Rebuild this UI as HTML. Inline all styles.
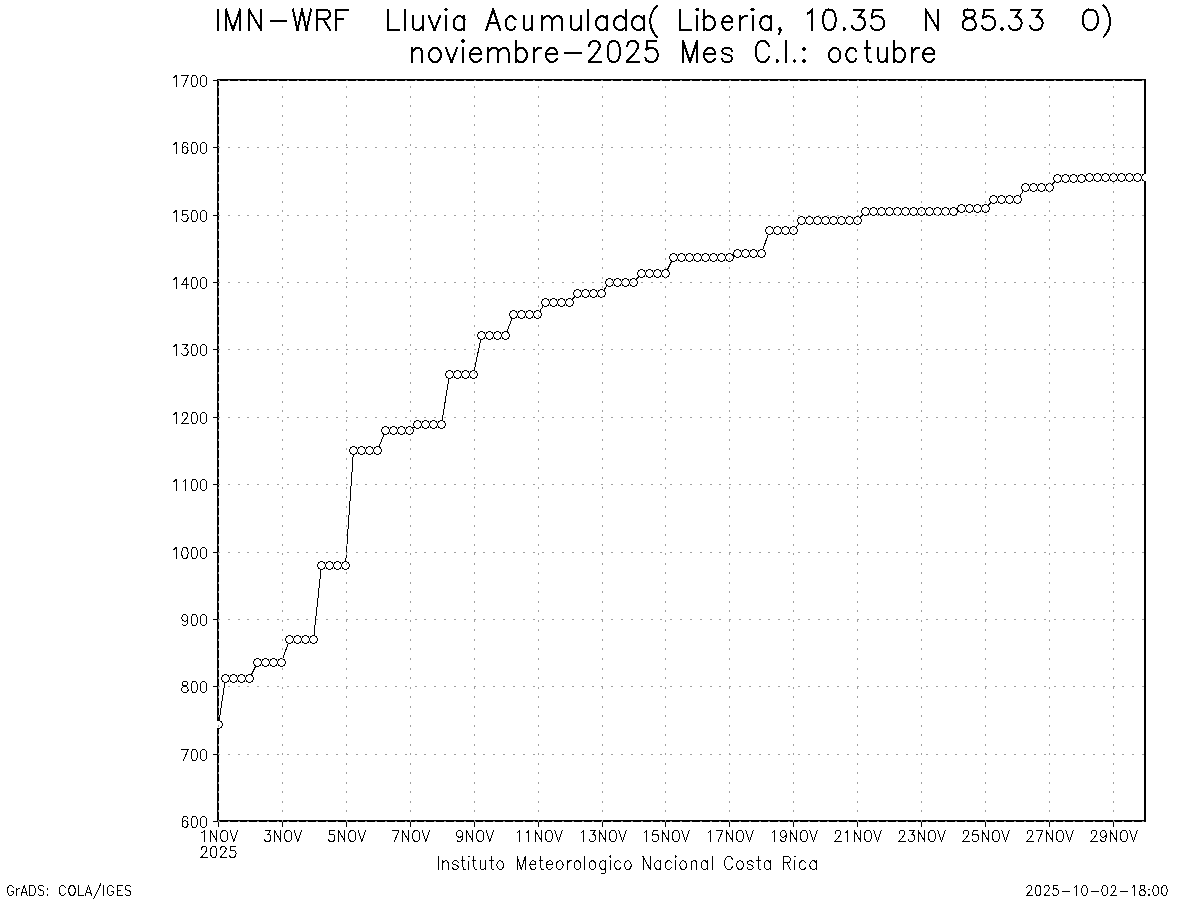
<!DOCTYPE html>
<html><head><meta charset="utf-8"><style>
html,body{margin:0;padding:0;background:#fff;}
svg{display:block;}
</style></head><body>
<svg width="1200" height="900" viewBox="0 0 1200 900">
<rect width="1200" height="900" fill="#fff"/>
<rect x="218" y="80" width="927" height="741" fill="none" stroke="#000" stroke-width="2" shape-rendering="crispEdges"/>
<rect x="213" y="821" width="4" height="1" fill="#000"/>
<rect x="213" y="754" width="4" height="1" fill="#000"/>
<rect x="213" y="686" width="4" height="1" fill="#000"/>
<rect x="213" y="619" width="4" height="1" fill="#000"/>
<rect x="213" y="552" width="4" height="1" fill="#000"/>
<rect x="213" y="484" width="4" height="1" fill="#000"/>
<rect x="213" y="417" width="4" height="1" fill="#000"/>
<rect x="213" y="349" width="4" height="1" fill="#000"/>
<rect x="213" y="282" width="4" height="1" fill="#000"/>
<rect x="213" y="215" width="4" height="1" fill="#000"/>
<rect x="213" y="147" width="4" height="1" fill="#000"/>
<rect x="213" y="80" width="4" height="1" fill="#000"/>
<rect x="218" y="822" width="1" height="5" fill="#000"/>
<rect x="282" y="822" width="1" height="5" fill="#000"/>
<rect x="346" y="822" width="1" height="5" fill="#000"/>
<rect x="410" y="822" width="1" height="5" fill="#000"/>
<rect x="474" y="822" width="1" height="5" fill="#000"/>
<rect x="538" y="822" width="1" height="5" fill="#000"/>
<rect x="602" y="822" width="1" height="5" fill="#000"/>
<rect x="665" y="822" width="1" height="5" fill="#000"/>
<rect x="729" y="822" width="1" height="5" fill="#000"/>
<rect x="793" y="822" width="1" height="5" fill="#000"/>
<rect x="857" y="822" width="1" height="5" fill="#000"/>
<rect x="921" y="822" width="1" height="5" fill="#000"/>
<rect x="985" y="822" width="1" height="5" fill="#000"/>
<rect x="1049" y="822" width="1" height="5" fill="#000"/>
<rect x="1113" y="822" width="1" height="5" fill="#000"/>
<clipPath id="c"><rect x="217" y="79" width="929" height="743"/></clipPath>
<g clip-path="url(#c)">
<polyline fill="none" stroke="#000" stroke-width="1" shape-rendering="crispEdges" points="218.5,724.5 225.5,678.5 233.5,678.5 241.5,678.5 249.5,678.5 257.5,662.5 265.5,662.5 273.5,662.5 281.5,662.5 289.5,639.5 297.5,639.5 305.5,639.5 313.5,639.5 321.5,565.5 329.5,565.5 337.5,565.5 345.5,565.5 353.5,450.5 361.5,450.5 369.5,450.5 377.5,450.5 385.5,430.5 393.5,430.5 401.5,430.5 409.5,430.5 417.5,424.5 425.5,424.5 433.5,424.5 441.5,424.5 449.5,374.5 457.5,374.5 465.5,374.5 473.5,374.5 481.5,335.5 489.5,335.5 497.5,335.5 505.5,335.5 513.5,314.5 521.5,314.5 529.5,314.5 537.5,314.5 545.5,302.5 553.5,302.5 561.5,302.5 569.5,302.5 577.5,293.5 585.5,293.5 593.5,293.5 601.5,293.5 609.5,282.5 617.5,282.5 625.5,282.5 633.5,282.5 641.5,273.5 649.5,273.5 657.5,273.5 665.5,273.5 673.5,257.5 681.5,257.5 689.5,257.5 697.5,257.5 705.5,257.5 713.5,257.5 721.5,257.5 729.5,257.5 737.5,253.5 745.5,253.5 753.5,253.5 761.5,253.5 769.5,230.5 777.5,230.5 785.5,230.5 793.5,230.5 801.5,220.5 809.5,220.5 817.5,220.5 825.5,220.5 833.5,220.5 841.5,220.5 849.5,220.5 857.5,220.5 865.5,211.5 873.5,211.5 881.5,211.5 889.5,211.5 897.5,211.5 905.5,211.5 913.5,211.5 921.5,211.5 929.5,211.5 937.5,211.5 945.5,211.5 953.5,211.5 961.5,208.5 969.5,208.5 977.5,208.5 985.5,208.5 993.5,199.5 1001.5,199.5 1009.5,199.5 1017.5,199.5 1025.5,187.5 1033.5,187.5 1041.5,187.5 1049.5,187.5 1057.5,178.5 1065.5,178.5 1073.5,178.5 1081.5,178.5 1089.5,177.5 1097.5,177.5 1105.5,177.5 1113.5,177.5 1121.5,177.5 1129.5,177.5 1137.5,177.5 1145.5,177.5"/>
<g shape-rendering="crispEdges">
<path fill="#fff" d="M214,720m3,0h3v1h-3zm-2,1h7v1h-7zm0,1h7v1h-7zm-1,1h9v1h-9zm0,1h9v1h-9zm0,1h9v1h-9zm1,1h7v1h-7zm0,1h7v1h-7zm2,1h3v1h-3z"/><path d="M214,720m3,0h3v1h-3zm-2,1h2v1h-2zm5,0h2v1h-2zm-5,1h1v1h-1zm6,0h1v1h-1zm-7,1h1v1h-1zm8,0h1v1h-1zm-8,1h1v1h-1zm8,0h1v1h-1zm-8,1h1v1h-1zm8,0h1v1h-1zm-7,1h1v1h-1zm6,0h1v1h-1zm-6,1h2v1h-2zm5,0h2v1h-2zm-3,1h3v1h-3z"/>
<path fill="#fff" d="M221,674m3,0h3v1h-3zm-2,1h7v1h-7zm0,1h7v1h-7zm-1,1h9v1h-9zm0,1h9v1h-9zm0,1h9v1h-9zm1,1h7v1h-7zm0,1h7v1h-7zm2,1h3v1h-3z"/><path d="M221,674m3,0h3v1h-3zm-2,1h2v1h-2zm5,0h2v1h-2zm-5,1h1v1h-1zm6,0h1v1h-1zm-7,1h1v1h-1zm8,0h1v1h-1zm-8,1h1v1h-1zm8,0h1v1h-1zm-8,1h1v1h-1zm8,0h1v1h-1zm-7,1h1v1h-1zm6,0h1v1h-1zm-6,1h2v1h-2zm5,0h2v1h-2zm-3,1h3v1h-3z"/>
<path fill="#fff" d="M229,674m3,0h3v1h-3zm-2,1h7v1h-7zm0,1h7v1h-7zm-1,1h9v1h-9zm0,1h9v1h-9zm0,1h9v1h-9zm1,1h7v1h-7zm0,1h7v1h-7zm2,1h3v1h-3z"/><path d="M229,674m3,0h3v1h-3zm-2,1h2v1h-2zm5,0h2v1h-2zm-5,1h1v1h-1zm6,0h1v1h-1zm-7,1h1v1h-1zm8,0h1v1h-1zm-8,1h1v1h-1zm8,0h1v1h-1zm-8,1h1v1h-1zm8,0h1v1h-1zm-7,1h1v1h-1zm6,0h1v1h-1zm-6,1h2v1h-2zm5,0h2v1h-2zm-3,1h3v1h-3z"/>
<path fill="#fff" d="M237,674m3,0h3v1h-3zm-2,1h7v1h-7zm0,1h7v1h-7zm-1,1h9v1h-9zm0,1h9v1h-9zm0,1h9v1h-9zm1,1h7v1h-7zm0,1h7v1h-7zm2,1h3v1h-3z"/><path d="M237,674m3,0h3v1h-3zm-2,1h2v1h-2zm5,0h2v1h-2zm-5,1h1v1h-1zm6,0h1v1h-1zm-7,1h1v1h-1zm8,0h1v1h-1zm-8,1h1v1h-1zm8,0h1v1h-1zm-8,1h1v1h-1zm8,0h1v1h-1zm-7,1h1v1h-1zm6,0h1v1h-1zm-6,1h2v1h-2zm5,0h2v1h-2zm-3,1h3v1h-3z"/>
<path fill="#fff" d="M245,674m3,0h3v1h-3zm-2,1h7v1h-7zm0,1h7v1h-7zm-1,1h9v1h-9zm0,1h9v1h-9zm0,1h9v1h-9zm1,1h7v1h-7zm0,1h7v1h-7zm2,1h3v1h-3z"/><path d="M245,674m3,0h3v1h-3zm-2,1h2v1h-2zm5,0h2v1h-2zm-5,1h1v1h-1zm6,0h1v1h-1zm-7,1h1v1h-1zm8,0h1v1h-1zm-8,1h1v1h-1zm8,0h1v1h-1zm-8,1h1v1h-1zm8,0h1v1h-1zm-7,1h1v1h-1zm6,0h1v1h-1zm-6,1h2v1h-2zm5,0h2v1h-2zm-3,1h3v1h-3z"/>
<path fill="#fff" d="M253,658m3,0h3v1h-3zm-2,1h7v1h-7zm0,1h7v1h-7zm-1,1h9v1h-9zm0,1h9v1h-9zm0,1h9v1h-9zm1,1h7v1h-7zm0,1h7v1h-7zm2,1h3v1h-3z"/><path d="M253,658m3,0h3v1h-3zm-2,1h2v1h-2zm5,0h2v1h-2zm-5,1h1v1h-1zm6,0h1v1h-1zm-7,1h1v1h-1zm8,0h1v1h-1zm-8,1h1v1h-1zm8,0h1v1h-1zm-8,1h1v1h-1zm8,0h1v1h-1zm-7,1h1v1h-1zm6,0h1v1h-1zm-6,1h2v1h-2zm5,0h2v1h-2zm-3,1h3v1h-3z"/>
<path fill="#fff" d="M261,658m3,0h3v1h-3zm-2,1h7v1h-7zm0,1h7v1h-7zm-1,1h9v1h-9zm0,1h9v1h-9zm0,1h9v1h-9zm1,1h7v1h-7zm0,1h7v1h-7zm2,1h3v1h-3z"/><path d="M261,658m3,0h3v1h-3zm-2,1h2v1h-2zm5,0h2v1h-2zm-5,1h1v1h-1zm6,0h1v1h-1zm-7,1h1v1h-1zm8,0h1v1h-1zm-8,1h1v1h-1zm8,0h1v1h-1zm-8,1h1v1h-1zm8,0h1v1h-1zm-7,1h1v1h-1zm6,0h1v1h-1zm-6,1h2v1h-2zm5,0h2v1h-2zm-3,1h3v1h-3z"/>
<path fill="#fff" d="M269,658m3,0h3v1h-3zm-2,1h7v1h-7zm0,1h7v1h-7zm-1,1h9v1h-9zm0,1h9v1h-9zm0,1h9v1h-9zm1,1h7v1h-7zm0,1h7v1h-7zm2,1h3v1h-3z"/><path d="M269,658m3,0h3v1h-3zm-2,1h2v1h-2zm5,0h2v1h-2zm-5,1h1v1h-1zm6,0h1v1h-1zm-7,1h1v1h-1zm8,0h1v1h-1zm-8,1h1v1h-1zm8,0h1v1h-1zm-8,1h1v1h-1zm8,0h1v1h-1zm-7,1h1v1h-1zm6,0h1v1h-1zm-6,1h2v1h-2zm5,0h2v1h-2zm-3,1h3v1h-3z"/>
<path fill="#fff" d="M277,658m3,0h3v1h-3zm-2,1h7v1h-7zm0,1h7v1h-7zm-1,1h9v1h-9zm0,1h9v1h-9zm0,1h9v1h-9zm1,1h7v1h-7zm0,1h7v1h-7zm2,1h3v1h-3z"/><path d="M277,658m3,0h3v1h-3zm-2,1h2v1h-2zm5,0h2v1h-2zm-5,1h1v1h-1zm6,0h1v1h-1zm-7,1h1v1h-1zm8,0h1v1h-1zm-8,1h1v1h-1zm8,0h1v1h-1zm-8,1h1v1h-1zm8,0h1v1h-1zm-7,1h1v1h-1zm6,0h1v1h-1zm-6,1h2v1h-2zm5,0h2v1h-2zm-3,1h3v1h-3z"/>
<path fill="#fff" d="M285,635m3,0h3v1h-3zm-2,1h7v1h-7zm0,1h7v1h-7zm-1,1h9v1h-9zm0,1h9v1h-9zm0,1h9v1h-9zm1,1h7v1h-7zm0,1h7v1h-7zm2,1h3v1h-3z"/><path d="M285,635m3,0h3v1h-3zm-2,1h2v1h-2zm5,0h2v1h-2zm-5,1h1v1h-1zm6,0h1v1h-1zm-7,1h1v1h-1zm8,0h1v1h-1zm-8,1h1v1h-1zm8,0h1v1h-1zm-8,1h1v1h-1zm8,0h1v1h-1zm-7,1h1v1h-1zm6,0h1v1h-1zm-6,1h2v1h-2zm5,0h2v1h-2zm-3,1h3v1h-3z"/>
<path fill="#fff" d="M293,635m3,0h3v1h-3zm-2,1h7v1h-7zm0,1h7v1h-7zm-1,1h9v1h-9zm0,1h9v1h-9zm0,1h9v1h-9zm1,1h7v1h-7zm0,1h7v1h-7zm2,1h3v1h-3z"/><path d="M293,635m3,0h3v1h-3zm-2,1h2v1h-2zm5,0h2v1h-2zm-5,1h1v1h-1zm6,0h1v1h-1zm-7,1h1v1h-1zm8,0h1v1h-1zm-8,1h1v1h-1zm8,0h1v1h-1zm-8,1h1v1h-1zm8,0h1v1h-1zm-7,1h1v1h-1zm6,0h1v1h-1zm-6,1h2v1h-2zm5,0h2v1h-2zm-3,1h3v1h-3z"/>
<path fill="#fff" d="M301,635m3,0h3v1h-3zm-2,1h7v1h-7zm0,1h7v1h-7zm-1,1h9v1h-9zm0,1h9v1h-9zm0,1h9v1h-9zm1,1h7v1h-7zm0,1h7v1h-7zm2,1h3v1h-3z"/><path d="M301,635m3,0h3v1h-3zm-2,1h2v1h-2zm5,0h2v1h-2zm-5,1h1v1h-1zm6,0h1v1h-1zm-7,1h1v1h-1zm8,0h1v1h-1zm-8,1h1v1h-1zm8,0h1v1h-1zm-8,1h1v1h-1zm8,0h1v1h-1zm-7,1h1v1h-1zm6,0h1v1h-1zm-6,1h2v1h-2zm5,0h2v1h-2zm-3,1h3v1h-3z"/>
<path fill="#fff" d="M309,635m3,0h3v1h-3zm-2,1h7v1h-7zm0,1h7v1h-7zm-1,1h9v1h-9zm0,1h9v1h-9zm0,1h9v1h-9zm1,1h7v1h-7zm0,1h7v1h-7zm2,1h3v1h-3z"/><path d="M309,635m3,0h3v1h-3zm-2,1h2v1h-2zm5,0h2v1h-2zm-5,1h1v1h-1zm6,0h1v1h-1zm-7,1h1v1h-1zm8,0h1v1h-1zm-8,1h1v1h-1zm8,0h1v1h-1zm-8,1h1v1h-1zm8,0h1v1h-1zm-7,1h1v1h-1zm6,0h1v1h-1zm-6,1h2v1h-2zm5,0h2v1h-2zm-3,1h3v1h-3z"/>
<path fill="#fff" d="M317,561m3,0h3v1h-3zm-2,1h7v1h-7zm0,1h7v1h-7zm-1,1h9v1h-9zm0,1h9v1h-9zm0,1h9v1h-9zm1,1h7v1h-7zm0,1h7v1h-7zm2,1h3v1h-3z"/><path d="M317,561m3,0h3v1h-3zm-2,1h2v1h-2zm5,0h2v1h-2zm-5,1h1v1h-1zm6,0h1v1h-1zm-7,1h1v1h-1zm8,0h1v1h-1zm-8,1h1v1h-1zm8,0h1v1h-1zm-8,1h1v1h-1zm8,0h1v1h-1zm-7,1h1v1h-1zm6,0h1v1h-1zm-6,1h2v1h-2zm5,0h2v1h-2zm-3,1h3v1h-3z"/>
<path fill="#fff" d="M325,561m3,0h3v1h-3zm-2,1h7v1h-7zm0,1h7v1h-7zm-1,1h9v1h-9zm0,1h9v1h-9zm0,1h9v1h-9zm1,1h7v1h-7zm0,1h7v1h-7zm2,1h3v1h-3z"/><path d="M325,561m3,0h3v1h-3zm-2,1h2v1h-2zm5,0h2v1h-2zm-5,1h1v1h-1zm6,0h1v1h-1zm-7,1h1v1h-1zm8,0h1v1h-1zm-8,1h1v1h-1zm8,0h1v1h-1zm-8,1h1v1h-1zm8,0h1v1h-1zm-7,1h1v1h-1zm6,0h1v1h-1zm-6,1h2v1h-2zm5,0h2v1h-2zm-3,1h3v1h-3z"/>
<path fill="#fff" d="M333,561m3,0h3v1h-3zm-2,1h7v1h-7zm0,1h7v1h-7zm-1,1h9v1h-9zm0,1h9v1h-9zm0,1h9v1h-9zm1,1h7v1h-7zm0,1h7v1h-7zm2,1h3v1h-3z"/><path d="M333,561m3,0h3v1h-3zm-2,1h2v1h-2zm5,0h2v1h-2zm-5,1h1v1h-1zm6,0h1v1h-1zm-7,1h1v1h-1zm8,0h1v1h-1zm-8,1h1v1h-1zm8,0h1v1h-1zm-8,1h1v1h-1zm8,0h1v1h-1zm-7,1h1v1h-1zm6,0h1v1h-1zm-6,1h2v1h-2zm5,0h2v1h-2zm-3,1h3v1h-3z"/>
<path fill="#fff" d="M341,561m3,0h3v1h-3zm-2,1h7v1h-7zm0,1h7v1h-7zm-1,1h9v1h-9zm0,1h9v1h-9zm0,1h9v1h-9zm1,1h7v1h-7zm0,1h7v1h-7zm2,1h3v1h-3z"/><path d="M341,561m3,0h3v1h-3zm-2,1h2v1h-2zm5,0h2v1h-2zm-5,1h1v1h-1zm6,0h1v1h-1zm-7,1h1v1h-1zm8,0h1v1h-1zm-8,1h1v1h-1zm8,0h1v1h-1zm-8,1h1v1h-1zm8,0h1v1h-1zm-7,1h1v1h-1zm6,0h1v1h-1zm-6,1h2v1h-2zm5,0h2v1h-2zm-3,1h3v1h-3z"/>
<path fill="#fff" d="M349,446m3,0h3v1h-3zm-2,1h7v1h-7zm0,1h7v1h-7zm-1,1h9v1h-9zm0,1h9v1h-9zm0,1h9v1h-9zm1,1h7v1h-7zm0,1h7v1h-7zm2,1h3v1h-3z"/><path d="M349,446m3,0h3v1h-3zm-2,1h2v1h-2zm5,0h2v1h-2zm-5,1h1v1h-1zm6,0h1v1h-1zm-7,1h1v1h-1zm8,0h1v1h-1zm-8,1h1v1h-1zm8,0h1v1h-1zm-8,1h1v1h-1zm8,0h1v1h-1zm-7,1h1v1h-1zm6,0h1v1h-1zm-6,1h2v1h-2zm5,0h2v1h-2zm-3,1h3v1h-3z"/>
<path fill="#fff" d="M357,446m3,0h3v1h-3zm-2,1h7v1h-7zm0,1h7v1h-7zm-1,1h9v1h-9zm0,1h9v1h-9zm0,1h9v1h-9zm1,1h7v1h-7zm0,1h7v1h-7zm2,1h3v1h-3z"/><path d="M357,446m3,0h3v1h-3zm-2,1h2v1h-2zm5,0h2v1h-2zm-5,1h1v1h-1zm6,0h1v1h-1zm-7,1h1v1h-1zm8,0h1v1h-1zm-8,1h1v1h-1zm8,0h1v1h-1zm-8,1h1v1h-1zm8,0h1v1h-1zm-7,1h1v1h-1zm6,0h1v1h-1zm-6,1h2v1h-2zm5,0h2v1h-2zm-3,1h3v1h-3z"/>
<path fill="#fff" d="M365,446m3,0h3v1h-3zm-2,1h7v1h-7zm0,1h7v1h-7zm-1,1h9v1h-9zm0,1h9v1h-9zm0,1h9v1h-9zm1,1h7v1h-7zm0,1h7v1h-7zm2,1h3v1h-3z"/><path d="M365,446m3,0h3v1h-3zm-2,1h2v1h-2zm5,0h2v1h-2zm-5,1h1v1h-1zm6,0h1v1h-1zm-7,1h1v1h-1zm8,0h1v1h-1zm-8,1h1v1h-1zm8,0h1v1h-1zm-8,1h1v1h-1zm8,0h1v1h-1zm-7,1h1v1h-1zm6,0h1v1h-1zm-6,1h2v1h-2zm5,0h2v1h-2zm-3,1h3v1h-3z"/>
<path fill="#fff" d="M373,446m3,0h3v1h-3zm-2,1h7v1h-7zm0,1h7v1h-7zm-1,1h9v1h-9zm0,1h9v1h-9zm0,1h9v1h-9zm1,1h7v1h-7zm0,1h7v1h-7zm2,1h3v1h-3z"/><path d="M373,446m3,0h3v1h-3zm-2,1h2v1h-2zm5,0h2v1h-2zm-5,1h1v1h-1zm6,0h1v1h-1zm-7,1h1v1h-1zm8,0h1v1h-1zm-8,1h1v1h-1zm8,0h1v1h-1zm-8,1h1v1h-1zm8,0h1v1h-1zm-7,1h1v1h-1zm6,0h1v1h-1zm-6,1h2v1h-2zm5,0h2v1h-2zm-3,1h3v1h-3z"/>
<path fill="#fff" d="M381,426m3,0h3v1h-3zm-2,1h7v1h-7zm0,1h7v1h-7zm-1,1h9v1h-9zm0,1h9v1h-9zm0,1h9v1h-9zm1,1h7v1h-7zm0,1h7v1h-7zm2,1h3v1h-3z"/><path d="M381,426m3,0h3v1h-3zm-2,1h2v1h-2zm5,0h2v1h-2zm-5,1h1v1h-1zm6,0h1v1h-1zm-7,1h1v1h-1zm8,0h1v1h-1zm-8,1h1v1h-1zm8,0h1v1h-1zm-8,1h1v1h-1zm8,0h1v1h-1zm-7,1h1v1h-1zm6,0h1v1h-1zm-6,1h2v1h-2zm5,0h2v1h-2zm-3,1h3v1h-3z"/>
<path fill="#fff" d="M389,426m3,0h3v1h-3zm-2,1h7v1h-7zm0,1h7v1h-7zm-1,1h9v1h-9zm0,1h9v1h-9zm0,1h9v1h-9zm1,1h7v1h-7zm0,1h7v1h-7zm2,1h3v1h-3z"/><path d="M389,426m3,0h3v1h-3zm-2,1h2v1h-2zm5,0h2v1h-2zm-5,1h1v1h-1zm6,0h1v1h-1zm-7,1h1v1h-1zm8,0h1v1h-1zm-8,1h1v1h-1zm8,0h1v1h-1zm-8,1h1v1h-1zm8,0h1v1h-1zm-7,1h1v1h-1zm6,0h1v1h-1zm-6,1h2v1h-2zm5,0h2v1h-2zm-3,1h3v1h-3z"/>
<path fill="#fff" d="M397,426m3,0h3v1h-3zm-2,1h7v1h-7zm0,1h7v1h-7zm-1,1h9v1h-9zm0,1h9v1h-9zm0,1h9v1h-9zm1,1h7v1h-7zm0,1h7v1h-7zm2,1h3v1h-3z"/><path d="M397,426m3,0h3v1h-3zm-2,1h2v1h-2zm5,0h2v1h-2zm-5,1h1v1h-1zm6,0h1v1h-1zm-7,1h1v1h-1zm8,0h1v1h-1zm-8,1h1v1h-1zm8,0h1v1h-1zm-8,1h1v1h-1zm8,0h1v1h-1zm-7,1h1v1h-1zm6,0h1v1h-1zm-6,1h2v1h-2zm5,0h2v1h-2zm-3,1h3v1h-3z"/>
<path fill="#fff" d="M405,426m3,0h3v1h-3zm-2,1h7v1h-7zm0,1h7v1h-7zm-1,1h9v1h-9zm0,1h9v1h-9zm0,1h9v1h-9zm1,1h7v1h-7zm0,1h7v1h-7zm2,1h3v1h-3z"/><path d="M405,426m3,0h3v1h-3zm-2,1h2v1h-2zm5,0h2v1h-2zm-5,1h1v1h-1zm6,0h1v1h-1zm-7,1h1v1h-1zm8,0h1v1h-1zm-8,1h1v1h-1zm8,0h1v1h-1zm-8,1h1v1h-1zm8,0h1v1h-1zm-7,1h1v1h-1zm6,0h1v1h-1zm-6,1h2v1h-2zm5,0h2v1h-2zm-3,1h3v1h-3z"/>
<path fill="#fff" d="M413,420m3,0h3v1h-3zm-2,1h7v1h-7zm0,1h7v1h-7zm-1,1h9v1h-9zm0,1h9v1h-9zm0,1h9v1h-9zm1,1h7v1h-7zm0,1h7v1h-7zm2,1h3v1h-3z"/><path d="M413,420m3,0h3v1h-3zm-2,1h2v1h-2zm5,0h2v1h-2zm-5,1h1v1h-1zm6,0h1v1h-1zm-7,1h1v1h-1zm8,0h1v1h-1zm-8,1h1v1h-1zm8,0h1v1h-1zm-8,1h1v1h-1zm8,0h1v1h-1zm-7,1h1v1h-1zm6,0h1v1h-1zm-6,1h2v1h-2zm5,0h2v1h-2zm-3,1h3v1h-3z"/>
<path fill="#fff" d="M421,420m3,0h3v1h-3zm-2,1h7v1h-7zm0,1h7v1h-7zm-1,1h9v1h-9zm0,1h9v1h-9zm0,1h9v1h-9zm1,1h7v1h-7zm0,1h7v1h-7zm2,1h3v1h-3z"/><path d="M421,420m3,0h3v1h-3zm-2,1h2v1h-2zm5,0h2v1h-2zm-5,1h1v1h-1zm6,0h1v1h-1zm-7,1h1v1h-1zm8,0h1v1h-1zm-8,1h1v1h-1zm8,0h1v1h-1zm-8,1h1v1h-1zm8,0h1v1h-1zm-7,1h1v1h-1zm6,0h1v1h-1zm-6,1h2v1h-2zm5,0h2v1h-2zm-3,1h3v1h-3z"/>
<path fill="#fff" d="M429,420m3,0h3v1h-3zm-2,1h7v1h-7zm0,1h7v1h-7zm-1,1h9v1h-9zm0,1h9v1h-9zm0,1h9v1h-9zm1,1h7v1h-7zm0,1h7v1h-7zm2,1h3v1h-3z"/><path d="M429,420m3,0h3v1h-3zm-2,1h2v1h-2zm5,0h2v1h-2zm-5,1h1v1h-1zm6,0h1v1h-1zm-7,1h1v1h-1zm8,0h1v1h-1zm-8,1h1v1h-1zm8,0h1v1h-1zm-8,1h1v1h-1zm8,0h1v1h-1zm-7,1h1v1h-1zm6,0h1v1h-1zm-6,1h2v1h-2zm5,0h2v1h-2zm-3,1h3v1h-3z"/>
<path fill="#fff" d="M437,420m3,0h3v1h-3zm-2,1h7v1h-7zm0,1h7v1h-7zm-1,1h9v1h-9zm0,1h9v1h-9zm0,1h9v1h-9zm1,1h7v1h-7zm0,1h7v1h-7zm2,1h3v1h-3z"/><path d="M437,420m3,0h3v1h-3zm-2,1h2v1h-2zm5,0h2v1h-2zm-5,1h1v1h-1zm6,0h1v1h-1zm-7,1h1v1h-1zm8,0h1v1h-1zm-8,1h1v1h-1zm8,0h1v1h-1zm-8,1h1v1h-1zm8,0h1v1h-1zm-7,1h1v1h-1zm6,0h1v1h-1zm-6,1h2v1h-2zm5,0h2v1h-2zm-3,1h3v1h-3z"/>
<path fill="#fff" d="M445,370m3,0h3v1h-3zm-2,1h7v1h-7zm0,1h7v1h-7zm-1,1h9v1h-9zm0,1h9v1h-9zm0,1h9v1h-9zm1,1h7v1h-7zm0,1h7v1h-7zm2,1h3v1h-3z"/><path d="M445,370m3,0h3v1h-3zm-2,1h2v1h-2zm5,0h2v1h-2zm-5,1h1v1h-1zm6,0h1v1h-1zm-7,1h1v1h-1zm8,0h1v1h-1zm-8,1h1v1h-1zm8,0h1v1h-1zm-8,1h1v1h-1zm8,0h1v1h-1zm-7,1h1v1h-1zm6,0h1v1h-1zm-6,1h2v1h-2zm5,0h2v1h-2zm-3,1h3v1h-3z"/>
<path fill="#fff" d="M453,370m3,0h3v1h-3zm-2,1h7v1h-7zm0,1h7v1h-7zm-1,1h9v1h-9zm0,1h9v1h-9zm0,1h9v1h-9zm1,1h7v1h-7zm0,1h7v1h-7zm2,1h3v1h-3z"/><path d="M453,370m3,0h3v1h-3zm-2,1h2v1h-2zm5,0h2v1h-2zm-5,1h1v1h-1zm6,0h1v1h-1zm-7,1h1v1h-1zm8,0h1v1h-1zm-8,1h1v1h-1zm8,0h1v1h-1zm-8,1h1v1h-1zm8,0h1v1h-1zm-7,1h1v1h-1zm6,0h1v1h-1zm-6,1h2v1h-2zm5,0h2v1h-2zm-3,1h3v1h-3z"/>
<path fill="#fff" d="M461,370m3,0h3v1h-3zm-2,1h7v1h-7zm0,1h7v1h-7zm-1,1h9v1h-9zm0,1h9v1h-9zm0,1h9v1h-9zm1,1h7v1h-7zm0,1h7v1h-7zm2,1h3v1h-3z"/><path d="M461,370m3,0h3v1h-3zm-2,1h2v1h-2zm5,0h2v1h-2zm-5,1h1v1h-1zm6,0h1v1h-1zm-7,1h1v1h-1zm8,0h1v1h-1zm-8,1h1v1h-1zm8,0h1v1h-1zm-8,1h1v1h-1zm8,0h1v1h-1zm-7,1h1v1h-1zm6,0h1v1h-1zm-6,1h2v1h-2zm5,0h2v1h-2zm-3,1h3v1h-3z"/>
<path fill="#fff" d="M469,370m3,0h3v1h-3zm-2,1h7v1h-7zm0,1h7v1h-7zm-1,1h9v1h-9zm0,1h9v1h-9zm0,1h9v1h-9zm1,1h7v1h-7zm0,1h7v1h-7zm2,1h3v1h-3z"/><path d="M469,370m3,0h3v1h-3zm-2,1h2v1h-2zm5,0h2v1h-2zm-5,1h1v1h-1zm6,0h1v1h-1zm-7,1h1v1h-1zm8,0h1v1h-1zm-8,1h1v1h-1zm8,0h1v1h-1zm-8,1h1v1h-1zm8,0h1v1h-1zm-7,1h1v1h-1zm6,0h1v1h-1zm-6,1h2v1h-2zm5,0h2v1h-2zm-3,1h3v1h-3z"/>
<path fill="#fff" d="M477,331m3,0h3v1h-3zm-2,1h7v1h-7zm0,1h7v1h-7zm-1,1h9v1h-9zm0,1h9v1h-9zm0,1h9v1h-9zm1,1h7v1h-7zm0,1h7v1h-7zm2,1h3v1h-3z"/><path d="M477,331m3,0h3v1h-3zm-2,1h2v1h-2zm5,0h2v1h-2zm-5,1h1v1h-1zm6,0h1v1h-1zm-7,1h1v1h-1zm8,0h1v1h-1zm-8,1h1v1h-1zm8,0h1v1h-1zm-8,1h1v1h-1zm8,0h1v1h-1zm-7,1h1v1h-1zm6,0h1v1h-1zm-6,1h2v1h-2zm5,0h2v1h-2zm-3,1h3v1h-3z"/>
<path fill="#fff" d="M485,331m3,0h3v1h-3zm-2,1h7v1h-7zm0,1h7v1h-7zm-1,1h9v1h-9zm0,1h9v1h-9zm0,1h9v1h-9zm1,1h7v1h-7zm0,1h7v1h-7zm2,1h3v1h-3z"/><path d="M485,331m3,0h3v1h-3zm-2,1h2v1h-2zm5,0h2v1h-2zm-5,1h1v1h-1zm6,0h1v1h-1zm-7,1h1v1h-1zm8,0h1v1h-1zm-8,1h1v1h-1zm8,0h1v1h-1zm-8,1h1v1h-1zm8,0h1v1h-1zm-7,1h1v1h-1zm6,0h1v1h-1zm-6,1h2v1h-2zm5,0h2v1h-2zm-3,1h3v1h-3z"/>
<path fill="#fff" d="M493,331m3,0h3v1h-3zm-2,1h7v1h-7zm0,1h7v1h-7zm-1,1h9v1h-9zm0,1h9v1h-9zm0,1h9v1h-9zm1,1h7v1h-7zm0,1h7v1h-7zm2,1h3v1h-3z"/><path d="M493,331m3,0h3v1h-3zm-2,1h2v1h-2zm5,0h2v1h-2zm-5,1h1v1h-1zm6,0h1v1h-1zm-7,1h1v1h-1zm8,0h1v1h-1zm-8,1h1v1h-1zm8,0h1v1h-1zm-8,1h1v1h-1zm8,0h1v1h-1zm-7,1h1v1h-1zm6,0h1v1h-1zm-6,1h2v1h-2zm5,0h2v1h-2zm-3,1h3v1h-3z"/>
<path fill="#fff" d="M501,331m3,0h3v1h-3zm-2,1h7v1h-7zm0,1h7v1h-7zm-1,1h9v1h-9zm0,1h9v1h-9zm0,1h9v1h-9zm1,1h7v1h-7zm0,1h7v1h-7zm2,1h3v1h-3z"/><path d="M501,331m3,0h3v1h-3zm-2,1h2v1h-2zm5,0h2v1h-2zm-5,1h1v1h-1zm6,0h1v1h-1zm-7,1h1v1h-1zm8,0h1v1h-1zm-8,1h1v1h-1zm8,0h1v1h-1zm-8,1h1v1h-1zm8,0h1v1h-1zm-7,1h1v1h-1zm6,0h1v1h-1zm-6,1h2v1h-2zm5,0h2v1h-2zm-3,1h3v1h-3z"/>
<path fill="#fff" d="M509,310m3,0h3v1h-3zm-2,1h7v1h-7zm0,1h7v1h-7zm-1,1h9v1h-9zm0,1h9v1h-9zm0,1h9v1h-9zm1,1h7v1h-7zm0,1h7v1h-7zm2,1h3v1h-3z"/><path d="M509,310m3,0h3v1h-3zm-2,1h2v1h-2zm5,0h2v1h-2zm-5,1h1v1h-1zm6,0h1v1h-1zm-7,1h1v1h-1zm8,0h1v1h-1zm-8,1h1v1h-1zm8,0h1v1h-1zm-8,1h1v1h-1zm8,0h1v1h-1zm-7,1h1v1h-1zm6,0h1v1h-1zm-6,1h2v1h-2zm5,0h2v1h-2zm-3,1h3v1h-3z"/>
<path fill="#fff" d="M517,310m3,0h3v1h-3zm-2,1h7v1h-7zm0,1h7v1h-7zm-1,1h9v1h-9zm0,1h9v1h-9zm0,1h9v1h-9zm1,1h7v1h-7zm0,1h7v1h-7zm2,1h3v1h-3z"/><path d="M517,310m3,0h3v1h-3zm-2,1h2v1h-2zm5,0h2v1h-2zm-5,1h1v1h-1zm6,0h1v1h-1zm-7,1h1v1h-1zm8,0h1v1h-1zm-8,1h1v1h-1zm8,0h1v1h-1zm-8,1h1v1h-1zm8,0h1v1h-1zm-7,1h1v1h-1zm6,0h1v1h-1zm-6,1h2v1h-2zm5,0h2v1h-2zm-3,1h3v1h-3z"/>
<path fill="#fff" d="M525,310m3,0h3v1h-3zm-2,1h7v1h-7zm0,1h7v1h-7zm-1,1h9v1h-9zm0,1h9v1h-9zm0,1h9v1h-9zm1,1h7v1h-7zm0,1h7v1h-7zm2,1h3v1h-3z"/><path d="M525,310m3,0h3v1h-3zm-2,1h2v1h-2zm5,0h2v1h-2zm-5,1h1v1h-1zm6,0h1v1h-1zm-7,1h1v1h-1zm8,0h1v1h-1zm-8,1h1v1h-1zm8,0h1v1h-1zm-8,1h1v1h-1zm8,0h1v1h-1zm-7,1h1v1h-1zm6,0h1v1h-1zm-6,1h2v1h-2zm5,0h2v1h-2zm-3,1h3v1h-3z"/>
<path fill="#fff" d="M533,310m3,0h3v1h-3zm-2,1h7v1h-7zm0,1h7v1h-7zm-1,1h9v1h-9zm0,1h9v1h-9zm0,1h9v1h-9zm1,1h7v1h-7zm0,1h7v1h-7zm2,1h3v1h-3z"/><path d="M533,310m3,0h3v1h-3zm-2,1h2v1h-2zm5,0h2v1h-2zm-5,1h1v1h-1zm6,0h1v1h-1zm-7,1h1v1h-1zm8,0h1v1h-1zm-8,1h1v1h-1zm8,0h1v1h-1zm-8,1h1v1h-1zm8,0h1v1h-1zm-7,1h1v1h-1zm6,0h1v1h-1zm-6,1h2v1h-2zm5,0h2v1h-2zm-3,1h3v1h-3z"/>
<path fill="#fff" d="M541,298m3,0h3v1h-3zm-2,1h7v1h-7zm0,1h7v1h-7zm-1,1h9v1h-9zm0,1h9v1h-9zm0,1h9v1h-9zm1,1h7v1h-7zm0,1h7v1h-7zm2,1h3v1h-3z"/><path d="M541,298m3,0h3v1h-3zm-2,1h2v1h-2zm5,0h2v1h-2zm-5,1h1v1h-1zm6,0h1v1h-1zm-7,1h1v1h-1zm8,0h1v1h-1zm-8,1h1v1h-1zm8,0h1v1h-1zm-8,1h1v1h-1zm8,0h1v1h-1zm-7,1h1v1h-1zm6,0h1v1h-1zm-6,1h2v1h-2zm5,0h2v1h-2zm-3,1h3v1h-3z"/>
<path fill="#fff" d="M549,298m3,0h3v1h-3zm-2,1h7v1h-7zm0,1h7v1h-7zm-1,1h9v1h-9zm0,1h9v1h-9zm0,1h9v1h-9zm1,1h7v1h-7zm0,1h7v1h-7zm2,1h3v1h-3z"/><path d="M549,298m3,0h3v1h-3zm-2,1h2v1h-2zm5,0h2v1h-2zm-5,1h1v1h-1zm6,0h1v1h-1zm-7,1h1v1h-1zm8,0h1v1h-1zm-8,1h1v1h-1zm8,0h1v1h-1zm-8,1h1v1h-1zm8,0h1v1h-1zm-7,1h1v1h-1zm6,0h1v1h-1zm-6,1h2v1h-2zm5,0h2v1h-2zm-3,1h3v1h-3z"/>
<path fill="#fff" d="M557,298m3,0h3v1h-3zm-2,1h7v1h-7zm0,1h7v1h-7zm-1,1h9v1h-9zm0,1h9v1h-9zm0,1h9v1h-9zm1,1h7v1h-7zm0,1h7v1h-7zm2,1h3v1h-3z"/><path d="M557,298m3,0h3v1h-3zm-2,1h2v1h-2zm5,0h2v1h-2zm-5,1h1v1h-1zm6,0h1v1h-1zm-7,1h1v1h-1zm8,0h1v1h-1zm-8,1h1v1h-1zm8,0h1v1h-1zm-8,1h1v1h-1zm8,0h1v1h-1zm-7,1h1v1h-1zm6,0h1v1h-1zm-6,1h2v1h-2zm5,0h2v1h-2zm-3,1h3v1h-3z"/>
<path fill="#fff" d="M565,298m3,0h3v1h-3zm-2,1h7v1h-7zm0,1h7v1h-7zm-1,1h9v1h-9zm0,1h9v1h-9zm0,1h9v1h-9zm1,1h7v1h-7zm0,1h7v1h-7zm2,1h3v1h-3z"/><path d="M565,298m3,0h3v1h-3zm-2,1h2v1h-2zm5,0h2v1h-2zm-5,1h1v1h-1zm6,0h1v1h-1zm-7,1h1v1h-1zm8,0h1v1h-1zm-8,1h1v1h-1zm8,0h1v1h-1zm-8,1h1v1h-1zm8,0h1v1h-1zm-7,1h1v1h-1zm6,0h1v1h-1zm-6,1h2v1h-2zm5,0h2v1h-2zm-3,1h3v1h-3z"/>
<path fill="#fff" d="M573,289m3,0h3v1h-3zm-2,1h7v1h-7zm0,1h7v1h-7zm-1,1h9v1h-9zm0,1h9v1h-9zm0,1h9v1h-9zm1,1h7v1h-7zm0,1h7v1h-7zm2,1h3v1h-3z"/><path d="M573,289m3,0h3v1h-3zm-2,1h2v1h-2zm5,0h2v1h-2zm-5,1h1v1h-1zm6,0h1v1h-1zm-7,1h1v1h-1zm8,0h1v1h-1zm-8,1h1v1h-1zm8,0h1v1h-1zm-8,1h1v1h-1zm8,0h1v1h-1zm-7,1h1v1h-1zm6,0h1v1h-1zm-6,1h2v1h-2zm5,0h2v1h-2zm-3,1h3v1h-3z"/>
<path fill="#fff" d="M581,289m3,0h3v1h-3zm-2,1h7v1h-7zm0,1h7v1h-7zm-1,1h9v1h-9zm0,1h9v1h-9zm0,1h9v1h-9zm1,1h7v1h-7zm0,1h7v1h-7zm2,1h3v1h-3z"/><path d="M581,289m3,0h3v1h-3zm-2,1h2v1h-2zm5,0h2v1h-2zm-5,1h1v1h-1zm6,0h1v1h-1zm-7,1h1v1h-1zm8,0h1v1h-1zm-8,1h1v1h-1zm8,0h1v1h-1zm-8,1h1v1h-1zm8,0h1v1h-1zm-7,1h1v1h-1zm6,0h1v1h-1zm-6,1h2v1h-2zm5,0h2v1h-2zm-3,1h3v1h-3z"/>
<path fill="#fff" d="M589,289m3,0h3v1h-3zm-2,1h7v1h-7zm0,1h7v1h-7zm-1,1h9v1h-9zm0,1h9v1h-9zm0,1h9v1h-9zm1,1h7v1h-7zm0,1h7v1h-7zm2,1h3v1h-3z"/><path d="M589,289m3,0h3v1h-3zm-2,1h2v1h-2zm5,0h2v1h-2zm-5,1h1v1h-1zm6,0h1v1h-1zm-7,1h1v1h-1zm8,0h1v1h-1zm-8,1h1v1h-1zm8,0h1v1h-1zm-8,1h1v1h-1zm8,0h1v1h-1zm-7,1h1v1h-1zm6,0h1v1h-1zm-6,1h2v1h-2zm5,0h2v1h-2zm-3,1h3v1h-3z"/>
<path fill="#fff" d="M597,289m3,0h3v1h-3zm-2,1h7v1h-7zm0,1h7v1h-7zm-1,1h9v1h-9zm0,1h9v1h-9zm0,1h9v1h-9zm1,1h7v1h-7zm0,1h7v1h-7zm2,1h3v1h-3z"/><path d="M597,289m3,0h3v1h-3zm-2,1h2v1h-2zm5,0h2v1h-2zm-5,1h1v1h-1zm6,0h1v1h-1zm-7,1h1v1h-1zm8,0h1v1h-1zm-8,1h1v1h-1zm8,0h1v1h-1zm-8,1h1v1h-1zm8,0h1v1h-1zm-7,1h1v1h-1zm6,0h1v1h-1zm-6,1h2v1h-2zm5,0h2v1h-2zm-3,1h3v1h-3z"/>
<path fill="#fff" d="M605,278m3,0h3v1h-3zm-2,1h7v1h-7zm0,1h7v1h-7zm-1,1h9v1h-9zm0,1h9v1h-9zm0,1h9v1h-9zm1,1h7v1h-7zm0,1h7v1h-7zm2,1h3v1h-3z"/><path d="M605,278m3,0h3v1h-3zm-2,1h2v1h-2zm5,0h2v1h-2zm-5,1h1v1h-1zm6,0h1v1h-1zm-7,1h1v1h-1zm8,0h1v1h-1zm-8,1h1v1h-1zm8,0h1v1h-1zm-8,1h1v1h-1zm8,0h1v1h-1zm-7,1h1v1h-1zm6,0h1v1h-1zm-6,1h2v1h-2zm5,0h2v1h-2zm-3,1h3v1h-3z"/>
<path fill="#fff" d="M613,278m3,0h3v1h-3zm-2,1h7v1h-7zm0,1h7v1h-7zm-1,1h9v1h-9zm0,1h9v1h-9zm0,1h9v1h-9zm1,1h7v1h-7zm0,1h7v1h-7zm2,1h3v1h-3z"/><path d="M613,278m3,0h3v1h-3zm-2,1h2v1h-2zm5,0h2v1h-2zm-5,1h1v1h-1zm6,0h1v1h-1zm-7,1h1v1h-1zm8,0h1v1h-1zm-8,1h1v1h-1zm8,0h1v1h-1zm-8,1h1v1h-1zm8,0h1v1h-1zm-7,1h1v1h-1zm6,0h1v1h-1zm-6,1h2v1h-2zm5,0h2v1h-2zm-3,1h3v1h-3z"/>
<path fill="#fff" d="M621,278m3,0h3v1h-3zm-2,1h7v1h-7zm0,1h7v1h-7zm-1,1h9v1h-9zm0,1h9v1h-9zm0,1h9v1h-9zm1,1h7v1h-7zm0,1h7v1h-7zm2,1h3v1h-3z"/><path d="M621,278m3,0h3v1h-3zm-2,1h2v1h-2zm5,0h2v1h-2zm-5,1h1v1h-1zm6,0h1v1h-1zm-7,1h1v1h-1zm8,0h1v1h-1zm-8,1h1v1h-1zm8,0h1v1h-1zm-8,1h1v1h-1zm8,0h1v1h-1zm-7,1h1v1h-1zm6,0h1v1h-1zm-6,1h2v1h-2zm5,0h2v1h-2zm-3,1h3v1h-3z"/>
<path fill="#fff" d="M629,278m3,0h3v1h-3zm-2,1h7v1h-7zm0,1h7v1h-7zm-1,1h9v1h-9zm0,1h9v1h-9zm0,1h9v1h-9zm1,1h7v1h-7zm0,1h7v1h-7zm2,1h3v1h-3z"/><path d="M629,278m3,0h3v1h-3zm-2,1h2v1h-2zm5,0h2v1h-2zm-5,1h1v1h-1zm6,0h1v1h-1zm-7,1h1v1h-1zm8,0h1v1h-1zm-8,1h1v1h-1zm8,0h1v1h-1zm-8,1h1v1h-1zm8,0h1v1h-1zm-7,1h1v1h-1zm6,0h1v1h-1zm-6,1h2v1h-2zm5,0h2v1h-2zm-3,1h3v1h-3z"/>
<path fill="#fff" d="M637,269m3,0h3v1h-3zm-2,1h7v1h-7zm0,1h7v1h-7zm-1,1h9v1h-9zm0,1h9v1h-9zm0,1h9v1h-9zm1,1h7v1h-7zm0,1h7v1h-7zm2,1h3v1h-3z"/><path d="M637,269m3,0h3v1h-3zm-2,1h2v1h-2zm5,0h2v1h-2zm-5,1h1v1h-1zm6,0h1v1h-1zm-7,1h1v1h-1zm8,0h1v1h-1zm-8,1h1v1h-1zm8,0h1v1h-1zm-8,1h1v1h-1zm8,0h1v1h-1zm-7,1h1v1h-1zm6,0h1v1h-1zm-6,1h2v1h-2zm5,0h2v1h-2zm-3,1h3v1h-3z"/>
<path fill="#fff" d="M645,269m3,0h3v1h-3zm-2,1h7v1h-7zm0,1h7v1h-7zm-1,1h9v1h-9zm0,1h9v1h-9zm0,1h9v1h-9zm1,1h7v1h-7zm0,1h7v1h-7zm2,1h3v1h-3z"/><path d="M645,269m3,0h3v1h-3zm-2,1h2v1h-2zm5,0h2v1h-2zm-5,1h1v1h-1zm6,0h1v1h-1zm-7,1h1v1h-1zm8,0h1v1h-1zm-8,1h1v1h-1zm8,0h1v1h-1zm-8,1h1v1h-1zm8,0h1v1h-1zm-7,1h1v1h-1zm6,0h1v1h-1zm-6,1h2v1h-2zm5,0h2v1h-2zm-3,1h3v1h-3z"/>
<path fill="#fff" d="M653,269m3,0h3v1h-3zm-2,1h7v1h-7zm0,1h7v1h-7zm-1,1h9v1h-9zm0,1h9v1h-9zm0,1h9v1h-9zm1,1h7v1h-7zm0,1h7v1h-7zm2,1h3v1h-3z"/><path d="M653,269m3,0h3v1h-3zm-2,1h2v1h-2zm5,0h2v1h-2zm-5,1h1v1h-1zm6,0h1v1h-1zm-7,1h1v1h-1zm8,0h1v1h-1zm-8,1h1v1h-1zm8,0h1v1h-1zm-8,1h1v1h-1zm8,0h1v1h-1zm-7,1h1v1h-1zm6,0h1v1h-1zm-6,1h2v1h-2zm5,0h2v1h-2zm-3,1h3v1h-3z"/>
<path fill="#fff" d="M661,269m3,0h3v1h-3zm-2,1h7v1h-7zm0,1h7v1h-7zm-1,1h9v1h-9zm0,1h9v1h-9zm0,1h9v1h-9zm1,1h7v1h-7zm0,1h7v1h-7zm2,1h3v1h-3z"/><path d="M661,269m3,0h3v1h-3zm-2,1h2v1h-2zm5,0h2v1h-2zm-5,1h1v1h-1zm6,0h1v1h-1zm-7,1h1v1h-1zm8,0h1v1h-1zm-8,1h1v1h-1zm8,0h1v1h-1zm-8,1h1v1h-1zm8,0h1v1h-1zm-7,1h1v1h-1zm6,0h1v1h-1zm-6,1h2v1h-2zm5,0h2v1h-2zm-3,1h3v1h-3z"/>
<path fill="#fff" d="M669,253m3,0h3v1h-3zm-2,1h7v1h-7zm0,1h7v1h-7zm-1,1h9v1h-9zm0,1h9v1h-9zm0,1h9v1h-9zm1,1h7v1h-7zm0,1h7v1h-7zm2,1h3v1h-3z"/><path d="M669,253m3,0h3v1h-3zm-2,1h2v1h-2zm5,0h2v1h-2zm-5,1h1v1h-1zm6,0h1v1h-1zm-7,1h1v1h-1zm8,0h1v1h-1zm-8,1h1v1h-1zm8,0h1v1h-1zm-8,1h1v1h-1zm8,0h1v1h-1zm-7,1h1v1h-1zm6,0h1v1h-1zm-6,1h2v1h-2zm5,0h2v1h-2zm-3,1h3v1h-3z"/>
<path fill="#fff" d="M677,253m3,0h3v1h-3zm-2,1h7v1h-7zm0,1h7v1h-7zm-1,1h9v1h-9zm0,1h9v1h-9zm0,1h9v1h-9zm1,1h7v1h-7zm0,1h7v1h-7zm2,1h3v1h-3z"/><path d="M677,253m3,0h3v1h-3zm-2,1h2v1h-2zm5,0h2v1h-2zm-5,1h1v1h-1zm6,0h1v1h-1zm-7,1h1v1h-1zm8,0h1v1h-1zm-8,1h1v1h-1zm8,0h1v1h-1zm-8,1h1v1h-1zm8,0h1v1h-1zm-7,1h1v1h-1zm6,0h1v1h-1zm-6,1h2v1h-2zm5,0h2v1h-2zm-3,1h3v1h-3z"/>
<path fill="#fff" d="M685,253m3,0h3v1h-3zm-2,1h7v1h-7zm0,1h7v1h-7zm-1,1h9v1h-9zm0,1h9v1h-9zm0,1h9v1h-9zm1,1h7v1h-7zm0,1h7v1h-7zm2,1h3v1h-3z"/><path d="M685,253m3,0h3v1h-3zm-2,1h2v1h-2zm5,0h2v1h-2zm-5,1h1v1h-1zm6,0h1v1h-1zm-7,1h1v1h-1zm8,0h1v1h-1zm-8,1h1v1h-1zm8,0h1v1h-1zm-8,1h1v1h-1zm8,0h1v1h-1zm-7,1h1v1h-1zm6,0h1v1h-1zm-6,1h2v1h-2zm5,0h2v1h-2zm-3,1h3v1h-3z"/>
<path fill="#fff" d="M693,253m3,0h3v1h-3zm-2,1h7v1h-7zm0,1h7v1h-7zm-1,1h9v1h-9zm0,1h9v1h-9zm0,1h9v1h-9zm1,1h7v1h-7zm0,1h7v1h-7zm2,1h3v1h-3z"/><path d="M693,253m3,0h3v1h-3zm-2,1h2v1h-2zm5,0h2v1h-2zm-5,1h1v1h-1zm6,0h1v1h-1zm-7,1h1v1h-1zm8,0h1v1h-1zm-8,1h1v1h-1zm8,0h1v1h-1zm-8,1h1v1h-1zm8,0h1v1h-1zm-7,1h1v1h-1zm6,0h1v1h-1zm-6,1h2v1h-2zm5,0h2v1h-2zm-3,1h3v1h-3z"/>
<path fill="#fff" d="M701,253m3,0h3v1h-3zm-2,1h7v1h-7zm0,1h7v1h-7zm-1,1h9v1h-9zm0,1h9v1h-9zm0,1h9v1h-9zm1,1h7v1h-7zm0,1h7v1h-7zm2,1h3v1h-3z"/><path d="M701,253m3,0h3v1h-3zm-2,1h2v1h-2zm5,0h2v1h-2zm-5,1h1v1h-1zm6,0h1v1h-1zm-7,1h1v1h-1zm8,0h1v1h-1zm-8,1h1v1h-1zm8,0h1v1h-1zm-8,1h1v1h-1zm8,0h1v1h-1zm-7,1h1v1h-1zm6,0h1v1h-1zm-6,1h2v1h-2zm5,0h2v1h-2zm-3,1h3v1h-3z"/>
<path fill="#fff" d="M709,253m3,0h3v1h-3zm-2,1h7v1h-7zm0,1h7v1h-7zm-1,1h9v1h-9zm0,1h9v1h-9zm0,1h9v1h-9zm1,1h7v1h-7zm0,1h7v1h-7zm2,1h3v1h-3z"/><path d="M709,253m3,0h3v1h-3zm-2,1h2v1h-2zm5,0h2v1h-2zm-5,1h1v1h-1zm6,0h1v1h-1zm-7,1h1v1h-1zm8,0h1v1h-1zm-8,1h1v1h-1zm8,0h1v1h-1zm-8,1h1v1h-1zm8,0h1v1h-1zm-7,1h1v1h-1zm6,0h1v1h-1zm-6,1h2v1h-2zm5,0h2v1h-2zm-3,1h3v1h-3z"/>
<path fill="#fff" d="M717,253m3,0h3v1h-3zm-2,1h7v1h-7zm0,1h7v1h-7zm-1,1h9v1h-9zm0,1h9v1h-9zm0,1h9v1h-9zm1,1h7v1h-7zm0,1h7v1h-7zm2,1h3v1h-3z"/><path d="M717,253m3,0h3v1h-3zm-2,1h2v1h-2zm5,0h2v1h-2zm-5,1h1v1h-1zm6,0h1v1h-1zm-7,1h1v1h-1zm8,0h1v1h-1zm-8,1h1v1h-1zm8,0h1v1h-1zm-8,1h1v1h-1zm8,0h1v1h-1zm-7,1h1v1h-1zm6,0h1v1h-1zm-6,1h2v1h-2zm5,0h2v1h-2zm-3,1h3v1h-3z"/>
<path fill="#fff" d="M725,253m3,0h3v1h-3zm-2,1h7v1h-7zm0,1h7v1h-7zm-1,1h9v1h-9zm0,1h9v1h-9zm0,1h9v1h-9zm1,1h7v1h-7zm0,1h7v1h-7zm2,1h3v1h-3z"/><path d="M725,253m3,0h3v1h-3zm-2,1h2v1h-2zm5,0h2v1h-2zm-5,1h1v1h-1zm6,0h1v1h-1zm-7,1h1v1h-1zm8,0h1v1h-1zm-8,1h1v1h-1zm8,0h1v1h-1zm-8,1h1v1h-1zm8,0h1v1h-1zm-7,1h1v1h-1zm6,0h1v1h-1zm-6,1h2v1h-2zm5,0h2v1h-2zm-3,1h3v1h-3z"/>
<path fill="#fff" d="M733,249m3,0h3v1h-3zm-2,1h7v1h-7zm0,1h7v1h-7zm-1,1h9v1h-9zm0,1h9v1h-9zm0,1h9v1h-9zm1,1h7v1h-7zm0,1h7v1h-7zm2,1h3v1h-3z"/><path d="M733,249m3,0h3v1h-3zm-2,1h2v1h-2zm5,0h2v1h-2zm-5,1h1v1h-1zm6,0h1v1h-1zm-7,1h1v1h-1zm8,0h1v1h-1zm-8,1h1v1h-1zm8,0h1v1h-1zm-8,1h1v1h-1zm8,0h1v1h-1zm-7,1h1v1h-1zm6,0h1v1h-1zm-6,1h2v1h-2zm5,0h2v1h-2zm-3,1h3v1h-3z"/>
<path fill="#fff" d="M741,249m3,0h3v1h-3zm-2,1h7v1h-7zm0,1h7v1h-7zm-1,1h9v1h-9zm0,1h9v1h-9zm0,1h9v1h-9zm1,1h7v1h-7zm0,1h7v1h-7zm2,1h3v1h-3z"/><path d="M741,249m3,0h3v1h-3zm-2,1h2v1h-2zm5,0h2v1h-2zm-5,1h1v1h-1zm6,0h1v1h-1zm-7,1h1v1h-1zm8,0h1v1h-1zm-8,1h1v1h-1zm8,0h1v1h-1zm-8,1h1v1h-1zm8,0h1v1h-1zm-7,1h1v1h-1zm6,0h1v1h-1zm-6,1h2v1h-2zm5,0h2v1h-2zm-3,1h3v1h-3z"/>
<path fill="#fff" d="M749,249m3,0h3v1h-3zm-2,1h7v1h-7zm0,1h7v1h-7zm-1,1h9v1h-9zm0,1h9v1h-9zm0,1h9v1h-9zm1,1h7v1h-7zm0,1h7v1h-7zm2,1h3v1h-3z"/><path d="M749,249m3,0h3v1h-3zm-2,1h2v1h-2zm5,0h2v1h-2zm-5,1h1v1h-1zm6,0h1v1h-1zm-7,1h1v1h-1zm8,0h1v1h-1zm-8,1h1v1h-1zm8,0h1v1h-1zm-8,1h1v1h-1zm8,0h1v1h-1zm-7,1h1v1h-1zm6,0h1v1h-1zm-6,1h2v1h-2zm5,0h2v1h-2zm-3,1h3v1h-3z"/>
<path fill="#fff" d="M757,249m3,0h3v1h-3zm-2,1h7v1h-7zm0,1h7v1h-7zm-1,1h9v1h-9zm0,1h9v1h-9zm0,1h9v1h-9zm1,1h7v1h-7zm0,1h7v1h-7zm2,1h3v1h-3z"/><path d="M757,249m3,0h3v1h-3zm-2,1h2v1h-2zm5,0h2v1h-2zm-5,1h1v1h-1zm6,0h1v1h-1zm-7,1h1v1h-1zm8,0h1v1h-1zm-8,1h1v1h-1zm8,0h1v1h-1zm-8,1h1v1h-1zm8,0h1v1h-1zm-7,1h1v1h-1zm6,0h1v1h-1zm-6,1h2v1h-2zm5,0h2v1h-2zm-3,1h3v1h-3z"/>
<path fill="#fff" d="M765,226m3,0h3v1h-3zm-2,1h7v1h-7zm0,1h7v1h-7zm-1,1h9v1h-9zm0,1h9v1h-9zm0,1h9v1h-9zm1,1h7v1h-7zm0,1h7v1h-7zm2,1h3v1h-3z"/><path d="M765,226m3,0h3v1h-3zm-2,1h2v1h-2zm5,0h2v1h-2zm-5,1h1v1h-1zm6,0h1v1h-1zm-7,1h1v1h-1zm8,0h1v1h-1zm-8,1h1v1h-1zm8,0h1v1h-1zm-8,1h1v1h-1zm8,0h1v1h-1zm-7,1h1v1h-1zm6,0h1v1h-1zm-6,1h2v1h-2zm5,0h2v1h-2zm-3,1h3v1h-3z"/>
<path fill="#fff" d="M773,226m3,0h3v1h-3zm-2,1h7v1h-7zm0,1h7v1h-7zm-1,1h9v1h-9zm0,1h9v1h-9zm0,1h9v1h-9zm1,1h7v1h-7zm0,1h7v1h-7zm2,1h3v1h-3z"/><path d="M773,226m3,0h3v1h-3zm-2,1h2v1h-2zm5,0h2v1h-2zm-5,1h1v1h-1zm6,0h1v1h-1zm-7,1h1v1h-1zm8,0h1v1h-1zm-8,1h1v1h-1zm8,0h1v1h-1zm-8,1h1v1h-1zm8,0h1v1h-1zm-7,1h1v1h-1zm6,0h1v1h-1zm-6,1h2v1h-2zm5,0h2v1h-2zm-3,1h3v1h-3z"/>
<path fill="#fff" d="M781,226m3,0h3v1h-3zm-2,1h7v1h-7zm0,1h7v1h-7zm-1,1h9v1h-9zm0,1h9v1h-9zm0,1h9v1h-9zm1,1h7v1h-7zm0,1h7v1h-7zm2,1h3v1h-3z"/><path d="M781,226m3,0h3v1h-3zm-2,1h2v1h-2zm5,0h2v1h-2zm-5,1h1v1h-1zm6,0h1v1h-1zm-7,1h1v1h-1zm8,0h1v1h-1zm-8,1h1v1h-1zm8,0h1v1h-1zm-8,1h1v1h-1zm8,0h1v1h-1zm-7,1h1v1h-1zm6,0h1v1h-1zm-6,1h2v1h-2zm5,0h2v1h-2zm-3,1h3v1h-3z"/>
<path fill="#fff" d="M789,226m3,0h3v1h-3zm-2,1h7v1h-7zm0,1h7v1h-7zm-1,1h9v1h-9zm0,1h9v1h-9zm0,1h9v1h-9zm1,1h7v1h-7zm0,1h7v1h-7zm2,1h3v1h-3z"/><path d="M789,226m3,0h3v1h-3zm-2,1h2v1h-2zm5,0h2v1h-2zm-5,1h1v1h-1zm6,0h1v1h-1zm-7,1h1v1h-1zm8,0h1v1h-1zm-8,1h1v1h-1zm8,0h1v1h-1zm-8,1h1v1h-1zm8,0h1v1h-1zm-7,1h1v1h-1zm6,0h1v1h-1zm-6,1h2v1h-2zm5,0h2v1h-2zm-3,1h3v1h-3z"/>
<path fill="#fff" d="M797,216m3,0h3v1h-3zm-2,1h7v1h-7zm0,1h7v1h-7zm-1,1h9v1h-9zm0,1h9v1h-9zm0,1h9v1h-9zm1,1h7v1h-7zm0,1h7v1h-7zm2,1h3v1h-3z"/><path d="M797,216m3,0h3v1h-3zm-2,1h2v1h-2zm5,0h2v1h-2zm-5,1h1v1h-1zm6,0h1v1h-1zm-7,1h1v1h-1zm8,0h1v1h-1zm-8,1h1v1h-1zm8,0h1v1h-1zm-8,1h1v1h-1zm8,0h1v1h-1zm-7,1h1v1h-1zm6,0h1v1h-1zm-6,1h2v1h-2zm5,0h2v1h-2zm-3,1h3v1h-3z"/>
<path fill="#fff" d="M805,216m3,0h3v1h-3zm-2,1h7v1h-7zm0,1h7v1h-7zm-1,1h9v1h-9zm0,1h9v1h-9zm0,1h9v1h-9zm1,1h7v1h-7zm0,1h7v1h-7zm2,1h3v1h-3z"/><path d="M805,216m3,0h3v1h-3zm-2,1h2v1h-2zm5,0h2v1h-2zm-5,1h1v1h-1zm6,0h1v1h-1zm-7,1h1v1h-1zm8,0h1v1h-1zm-8,1h1v1h-1zm8,0h1v1h-1zm-8,1h1v1h-1zm8,0h1v1h-1zm-7,1h1v1h-1zm6,0h1v1h-1zm-6,1h2v1h-2zm5,0h2v1h-2zm-3,1h3v1h-3z"/>
<path fill="#fff" d="M813,216m3,0h3v1h-3zm-2,1h7v1h-7zm0,1h7v1h-7zm-1,1h9v1h-9zm0,1h9v1h-9zm0,1h9v1h-9zm1,1h7v1h-7zm0,1h7v1h-7zm2,1h3v1h-3z"/><path d="M813,216m3,0h3v1h-3zm-2,1h2v1h-2zm5,0h2v1h-2zm-5,1h1v1h-1zm6,0h1v1h-1zm-7,1h1v1h-1zm8,0h1v1h-1zm-8,1h1v1h-1zm8,0h1v1h-1zm-8,1h1v1h-1zm8,0h1v1h-1zm-7,1h1v1h-1zm6,0h1v1h-1zm-6,1h2v1h-2zm5,0h2v1h-2zm-3,1h3v1h-3z"/>
<path fill="#fff" d="M821,216m3,0h3v1h-3zm-2,1h7v1h-7zm0,1h7v1h-7zm-1,1h9v1h-9zm0,1h9v1h-9zm0,1h9v1h-9zm1,1h7v1h-7zm0,1h7v1h-7zm2,1h3v1h-3z"/><path d="M821,216m3,0h3v1h-3zm-2,1h2v1h-2zm5,0h2v1h-2zm-5,1h1v1h-1zm6,0h1v1h-1zm-7,1h1v1h-1zm8,0h1v1h-1zm-8,1h1v1h-1zm8,0h1v1h-1zm-8,1h1v1h-1zm8,0h1v1h-1zm-7,1h1v1h-1zm6,0h1v1h-1zm-6,1h2v1h-2zm5,0h2v1h-2zm-3,1h3v1h-3z"/>
<path fill="#fff" d="M829,216m3,0h3v1h-3zm-2,1h7v1h-7zm0,1h7v1h-7zm-1,1h9v1h-9zm0,1h9v1h-9zm0,1h9v1h-9zm1,1h7v1h-7zm0,1h7v1h-7zm2,1h3v1h-3z"/><path d="M829,216m3,0h3v1h-3zm-2,1h2v1h-2zm5,0h2v1h-2zm-5,1h1v1h-1zm6,0h1v1h-1zm-7,1h1v1h-1zm8,0h1v1h-1zm-8,1h1v1h-1zm8,0h1v1h-1zm-8,1h1v1h-1zm8,0h1v1h-1zm-7,1h1v1h-1zm6,0h1v1h-1zm-6,1h2v1h-2zm5,0h2v1h-2zm-3,1h3v1h-3z"/>
<path fill="#fff" d="M837,216m3,0h3v1h-3zm-2,1h7v1h-7zm0,1h7v1h-7zm-1,1h9v1h-9zm0,1h9v1h-9zm0,1h9v1h-9zm1,1h7v1h-7zm0,1h7v1h-7zm2,1h3v1h-3z"/><path d="M837,216m3,0h3v1h-3zm-2,1h2v1h-2zm5,0h2v1h-2zm-5,1h1v1h-1zm6,0h1v1h-1zm-7,1h1v1h-1zm8,0h1v1h-1zm-8,1h1v1h-1zm8,0h1v1h-1zm-8,1h1v1h-1zm8,0h1v1h-1zm-7,1h1v1h-1zm6,0h1v1h-1zm-6,1h2v1h-2zm5,0h2v1h-2zm-3,1h3v1h-3z"/>
<path fill="#fff" d="M845,216m3,0h3v1h-3zm-2,1h7v1h-7zm0,1h7v1h-7zm-1,1h9v1h-9zm0,1h9v1h-9zm0,1h9v1h-9zm1,1h7v1h-7zm0,1h7v1h-7zm2,1h3v1h-3z"/><path d="M845,216m3,0h3v1h-3zm-2,1h2v1h-2zm5,0h2v1h-2zm-5,1h1v1h-1zm6,0h1v1h-1zm-7,1h1v1h-1zm8,0h1v1h-1zm-8,1h1v1h-1zm8,0h1v1h-1zm-8,1h1v1h-1zm8,0h1v1h-1zm-7,1h1v1h-1zm6,0h1v1h-1zm-6,1h2v1h-2zm5,0h2v1h-2zm-3,1h3v1h-3z"/>
<path fill="#fff" d="M853,216m3,0h3v1h-3zm-2,1h7v1h-7zm0,1h7v1h-7zm-1,1h9v1h-9zm0,1h9v1h-9zm0,1h9v1h-9zm1,1h7v1h-7zm0,1h7v1h-7zm2,1h3v1h-3z"/><path d="M853,216m3,0h3v1h-3zm-2,1h2v1h-2zm5,0h2v1h-2zm-5,1h1v1h-1zm6,0h1v1h-1zm-7,1h1v1h-1zm8,0h1v1h-1zm-8,1h1v1h-1zm8,0h1v1h-1zm-8,1h1v1h-1zm8,0h1v1h-1zm-7,1h1v1h-1zm6,0h1v1h-1zm-6,1h2v1h-2zm5,0h2v1h-2zm-3,1h3v1h-3z"/>
<path fill="#fff" d="M861,207m3,0h3v1h-3zm-2,1h7v1h-7zm0,1h7v1h-7zm-1,1h9v1h-9zm0,1h9v1h-9zm0,1h9v1h-9zm1,1h7v1h-7zm0,1h7v1h-7zm2,1h3v1h-3z"/><path d="M861,207m3,0h3v1h-3zm-2,1h2v1h-2zm5,0h2v1h-2zm-5,1h1v1h-1zm6,0h1v1h-1zm-7,1h1v1h-1zm8,0h1v1h-1zm-8,1h1v1h-1zm8,0h1v1h-1zm-8,1h1v1h-1zm8,0h1v1h-1zm-7,1h1v1h-1zm6,0h1v1h-1zm-6,1h2v1h-2zm5,0h2v1h-2zm-3,1h3v1h-3z"/>
<path fill="#fff" d="M869,207m3,0h3v1h-3zm-2,1h7v1h-7zm0,1h7v1h-7zm-1,1h9v1h-9zm0,1h9v1h-9zm0,1h9v1h-9zm1,1h7v1h-7zm0,1h7v1h-7zm2,1h3v1h-3z"/><path d="M869,207m3,0h3v1h-3zm-2,1h2v1h-2zm5,0h2v1h-2zm-5,1h1v1h-1zm6,0h1v1h-1zm-7,1h1v1h-1zm8,0h1v1h-1zm-8,1h1v1h-1zm8,0h1v1h-1zm-8,1h1v1h-1zm8,0h1v1h-1zm-7,1h1v1h-1zm6,0h1v1h-1zm-6,1h2v1h-2zm5,0h2v1h-2zm-3,1h3v1h-3z"/>
<path fill="#fff" d="M877,207m3,0h3v1h-3zm-2,1h7v1h-7zm0,1h7v1h-7zm-1,1h9v1h-9zm0,1h9v1h-9zm0,1h9v1h-9zm1,1h7v1h-7zm0,1h7v1h-7zm2,1h3v1h-3z"/><path d="M877,207m3,0h3v1h-3zm-2,1h2v1h-2zm5,0h2v1h-2zm-5,1h1v1h-1zm6,0h1v1h-1zm-7,1h1v1h-1zm8,0h1v1h-1zm-8,1h1v1h-1zm8,0h1v1h-1zm-8,1h1v1h-1zm8,0h1v1h-1zm-7,1h1v1h-1zm6,0h1v1h-1zm-6,1h2v1h-2zm5,0h2v1h-2zm-3,1h3v1h-3z"/>
<path fill="#fff" d="M885,207m3,0h3v1h-3zm-2,1h7v1h-7zm0,1h7v1h-7zm-1,1h9v1h-9zm0,1h9v1h-9zm0,1h9v1h-9zm1,1h7v1h-7zm0,1h7v1h-7zm2,1h3v1h-3z"/><path d="M885,207m3,0h3v1h-3zm-2,1h2v1h-2zm5,0h2v1h-2zm-5,1h1v1h-1zm6,0h1v1h-1zm-7,1h1v1h-1zm8,0h1v1h-1zm-8,1h1v1h-1zm8,0h1v1h-1zm-8,1h1v1h-1zm8,0h1v1h-1zm-7,1h1v1h-1zm6,0h1v1h-1zm-6,1h2v1h-2zm5,0h2v1h-2zm-3,1h3v1h-3z"/>
<path fill="#fff" d="M893,207m3,0h3v1h-3zm-2,1h7v1h-7zm0,1h7v1h-7zm-1,1h9v1h-9zm0,1h9v1h-9zm0,1h9v1h-9zm1,1h7v1h-7zm0,1h7v1h-7zm2,1h3v1h-3z"/><path d="M893,207m3,0h3v1h-3zm-2,1h2v1h-2zm5,0h2v1h-2zm-5,1h1v1h-1zm6,0h1v1h-1zm-7,1h1v1h-1zm8,0h1v1h-1zm-8,1h1v1h-1zm8,0h1v1h-1zm-8,1h1v1h-1zm8,0h1v1h-1zm-7,1h1v1h-1zm6,0h1v1h-1zm-6,1h2v1h-2zm5,0h2v1h-2zm-3,1h3v1h-3z"/>
<path fill="#fff" d="M901,207m3,0h3v1h-3zm-2,1h7v1h-7zm0,1h7v1h-7zm-1,1h9v1h-9zm0,1h9v1h-9zm0,1h9v1h-9zm1,1h7v1h-7zm0,1h7v1h-7zm2,1h3v1h-3z"/><path d="M901,207m3,0h3v1h-3zm-2,1h2v1h-2zm5,0h2v1h-2zm-5,1h1v1h-1zm6,0h1v1h-1zm-7,1h1v1h-1zm8,0h1v1h-1zm-8,1h1v1h-1zm8,0h1v1h-1zm-8,1h1v1h-1zm8,0h1v1h-1zm-7,1h1v1h-1zm6,0h1v1h-1zm-6,1h2v1h-2zm5,0h2v1h-2zm-3,1h3v1h-3z"/>
<path fill="#fff" d="M909,207m3,0h3v1h-3zm-2,1h7v1h-7zm0,1h7v1h-7zm-1,1h9v1h-9zm0,1h9v1h-9zm0,1h9v1h-9zm1,1h7v1h-7zm0,1h7v1h-7zm2,1h3v1h-3z"/><path d="M909,207m3,0h3v1h-3zm-2,1h2v1h-2zm5,0h2v1h-2zm-5,1h1v1h-1zm6,0h1v1h-1zm-7,1h1v1h-1zm8,0h1v1h-1zm-8,1h1v1h-1zm8,0h1v1h-1zm-8,1h1v1h-1zm8,0h1v1h-1zm-7,1h1v1h-1zm6,0h1v1h-1zm-6,1h2v1h-2zm5,0h2v1h-2zm-3,1h3v1h-3z"/>
<path fill="#fff" d="M917,207m3,0h3v1h-3zm-2,1h7v1h-7zm0,1h7v1h-7zm-1,1h9v1h-9zm0,1h9v1h-9zm0,1h9v1h-9zm1,1h7v1h-7zm0,1h7v1h-7zm2,1h3v1h-3z"/><path d="M917,207m3,0h3v1h-3zm-2,1h2v1h-2zm5,0h2v1h-2zm-5,1h1v1h-1zm6,0h1v1h-1zm-7,1h1v1h-1zm8,0h1v1h-1zm-8,1h1v1h-1zm8,0h1v1h-1zm-8,1h1v1h-1zm8,0h1v1h-1zm-7,1h1v1h-1zm6,0h1v1h-1zm-6,1h2v1h-2zm5,0h2v1h-2zm-3,1h3v1h-3z"/>
<path fill="#fff" d="M925,207m3,0h3v1h-3zm-2,1h7v1h-7zm0,1h7v1h-7zm-1,1h9v1h-9zm0,1h9v1h-9zm0,1h9v1h-9zm1,1h7v1h-7zm0,1h7v1h-7zm2,1h3v1h-3z"/><path d="M925,207m3,0h3v1h-3zm-2,1h2v1h-2zm5,0h2v1h-2zm-5,1h1v1h-1zm6,0h1v1h-1zm-7,1h1v1h-1zm8,0h1v1h-1zm-8,1h1v1h-1zm8,0h1v1h-1zm-8,1h1v1h-1zm8,0h1v1h-1zm-7,1h1v1h-1zm6,0h1v1h-1zm-6,1h2v1h-2zm5,0h2v1h-2zm-3,1h3v1h-3z"/>
<path fill="#fff" d="M933,207m3,0h3v1h-3zm-2,1h7v1h-7zm0,1h7v1h-7zm-1,1h9v1h-9zm0,1h9v1h-9zm0,1h9v1h-9zm1,1h7v1h-7zm0,1h7v1h-7zm2,1h3v1h-3z"/><path d="M933,207m3,0h3v1h-3zm-2,1h2v1h-2zm5,0h2v1h-2zm-5,1h1v1h-1zm6,0h1v1h-1zm-7,1h1v1h-1zm8,0h1v1h-1zm-8,1h1v1h-1zm8,0h1v1h-1zm-8,1h1v1h-1zm8,0h1v1h-1zm-7,1h1v1h-1zm6,0h1v1h-1zm-6,1h2v1h-2zm5,0h2v1h-2zm-3,1h3v1h-3z"/>
<path fill="#fff" d="M941,207m3,0h3v1h-3zm-2,1h7v1h-7zm0,1h7v1h-7zm-1,1h9v1h-9zm0,1h9v1h-9zm0,1h9v1h-9zm1,1h7v1h-7zm0,1h7v1h-7zm2,1h3v1h-3z"/><path d="M941,207m3,0h3v1h-3zm-2,1h2v1h-2zm5,0h2v1h-2zm-5,1h1v1h-1zm6,0h1v1h-1zm-7,1h1v1h-1zm8,0h1v1h-1zm-8,1h1v1h-1zm8,0h1v1h-1zm-8,1h1v1h-1zm8,0h1v1h-1zm-7,1h1v1h-1zm6,0h1v1h-1zm-6,1h2v1h-2zm5,0h2v1h-2zm-3,1h3v1h-3z"/>
<path fill="#fff" d="M949,207m3,0h3v1h-3zm-2,1h7v1h-7zm0,1h7v1h-7zm-1,1h9v1h-9zm0,1h9v1h-9zm0,1h9v1h-9zm1,1h7v1h-7zm0,1h7v1h-7zm2,1h3v1h-3z"/><path d="M949,207m3,0h3v1h-3zm-2,1h2v1h-2zm5,0h2v1h-2zm-5,1h1v1h-1zm6,0h1v1h-1zm-7,1h1v1h-1zm8,0h1v1h-1zm-8,1h1v1h-1zm8,0h1v1h-1zm-8,1h1v1h-1zm8,0h1v1h-1zm-7,1h1v1h-1zm6,0h1v1h-1zm-6,1h2v1h-2zm5,0h2v1h-2zm-3,1h3v1h-3z"/>
<path fill="#fff" d="M957,204m3,0h3v1h-3zm-2,1h7v1h-7zm0,1h7v1h-7zm-1,1h9v1h-9zm0,1h9v1h-9zm0,1h9v1h-9zm1,1h7v1h-7zm0,1h7v1h-7zm2,1h3v1h-3z"/><path d="M957,204m3,0h3v1h-3zm-2,1h2v1h-2zm5,0h2v1h-2zm-5,1h1v1h-1zm6,0h1v1h-1zm-7,1h1v1h-1zm8,0h1v1h-1zm-8,1h1v1h-1zm8,0h1v1h-1zm-8,1h1v1h-1zm8,0h1v1h-1zm-7,1h1v1h-1zm6,0h1v1h-1zm-6,1h2v1h-2zm5,0h2v1h-2zm-3,1h3v1h-3z"/>
<path fill="#fff" d="M965,204m3,0h3v1h-3zm-2,1h7v1h-7zm0,1h7v1h-7zm-1,1h9v1h-9zm0,1h9v1h-9zm0,1h9v1h-9zm1,1h7v1h-7zm0,1h7v1h-7zm2,1h3v1h-3z"/><path d="M965,204m3,0h3v1h-3zm-2,1h2v1h-2zm5,0h2v1h-2zm-5,1h1v1h-1zm6,0h1v1h-1zm-7,1h1v1h-1zm8,0h1v1h-1zm-8,1h1v1h-1zm8,0h1v1h-1zm-8,1h1v1h-1zm8,0h1v1h-1zm-7,1h1v1h-1zm6,0h1v1h-1zm-6,1h2v1h-2zm5,0h2v1h-2zm-3,1h3v1h-3z"/>
<path fill="#fff" d="M973,204m3,0h3v1h-3zm-2,1h7v1h-7zm0,1h7v1h-7zm-1,1h9v1h-9zm0,1h9v1h-9zm0,1h9v1h-9zm1,1h7v1h-7zm0,1h7v1h-7zm2,1h3v1h-3z"/><path d="M973,204m3,0h3v1h-3zm-2,1h2v1h-2zm5,0h2v1h-2zm-5,1h1v1h-1zm6,0h1v1h-1zm-7,1h1v1h-1zm8,0h1v1h-1zm-8,1h1v1h-1zm8,0h1v1h-1zm-8,1h1v1h-1zm8,0h1v1h-1zm-7,1h1v1h-1zm6,0h1v1h-1zm-6,1h2v1h-2zm5,0h2v1h-2zm-3,1h3v1h-3z"/>
<path fill="#fff" d="M981,204m3,0h3v1h-3zm-2,1h7v1h-7zm0,1h7v1h-7zm-1,1h9v1h-9zm0,1h9v1h-9zm0,1h9v1h-9zm1,1h7v1h-7zm0,1h7v1h-7zm2,1h3v1h-3z"/><path d="M981,204m3,0h3v1h-3zm-2,1h2v1h-2zm5,0h2v1h-2zm-5,1h1v1h-1zm6,0h1v1h-1zm-7,1h1v1h-1zm8,0h1v1h-1zm-8,1h1v1h-1zm8,0h1v1h-1zm-8,1h1v1h-1zm8,0h1v1h-1zm-7,1h1v1h-1zm6,0h1v1h-1zm-6,1h2v1h-2zm5,0h2v1h-2zm-3,1h3v1h-3z"/>
<path fill="#fff" d="M989,195m3,0h3v1h-3zm-2,1h7v1h-7zm0,1h7v1h-7zm-1,1h9v1h-9zm0,1h9v1h-9zm0,1h9v1h-9zm1,1h7v1h-7zm0,1h7v1h-7zm2,1h3v1h-3z"/><path d="M989,195m3,0h3v1h-3zm-2,1h2v1h-2zm5,0h2v1h-2zm-5,1h1v1h-1zm6,0h1v1h-1zm-7,1h1v1h-1zm8,0h1v1h-1zm-8,1h1v1h-1zm8,0h1v1h-1zm-8,1h1v1h-1zm8,0h1v1h-1zm-7,1h1v1h-1zm6,0h1v1h-1zm-6,1h2v1h-2zm5,0h2v1h-2zm-3,1h3v1h-3z"/>
<path fill="#fff" d="M997,195m3,0h3v1h-3zm-2,1h7v1h-7zm0,1h7v1h-7zm-1,1h9v1h-9zm0,1h9v1h-9zm0,1h9v1h-9zm1,1h7v1h-7zm0,1h7v1h-7zm2,1h3v1h-3z"/><path d="M997,195m3,0h3v1h-3zm-2,1h2v1h-2zm5,0h2v1h-2zm-5,1h1v1h-1zm6,0h1v1h-1zm-7,1h1v1h-1zm8,0h1v1h-1zm-8,1h1v1h-1zm8,0h1v1h-1zm-8,1h1v1h-1zm8,0h1v1h-1zm-7,1h1v1h-1zm6,0h1v1h-1zm-6,1h2v1h-2zm5,0h2v1h-2zm-3,1h3v1h-3z"/>
<path fill="#fff" d="M1005,195m3,0h3v1h-3zm-2,1h7v1h-7zm0,1h7v1h-7zm-1,1h9v1h-9zm0,1h9v1h-9zm0,1h9v1h-9zm1,1h7v1h-7zm0,1h7v1h-7zm2,1h3v1h-3z"/><path d="M1005,195m3,0h3v1h-3zm-2,1h2v1h-2zm5,0h2v1h-2zm-5,1h1v1h-1zm6,0h1v1h-1zm-7,1h1v1h-1zm8,0h1v1h-1zm-8,1h1v1h-1zm8,0h1v1h-1zm-8,1h1v1h-1zm8,0h1v1h-1zm-7,1h1v1h-1zm6,0h1v1h-1zm-6,1h2v1h-2zm5,0h2v1h-2zm-3,1h3v1h-3z"/>
<path fill="#fff" d="M1013,195m3,0h3v1h-3zm-2,1h7v1h-7zm0,1h7v1h-7zm-1,1h9v1h-9zm0,1h9v1h-9zm0,1h9v1h-9zm1,1h7v1h-7zm0,1h7v1h-7zm2,1h3v1h-3z"/><path d="M1013,195m3,0h3v1h-3zm-2,1h2v1h-2zm5,0h2v1h-2zm-5,1h1v1h-1zm6,0h1v1h-1zm-7,1h1v1h-1zm8,0h1v1h-1zm-8,1h1v1h-1zm8,0h1v1h-1zm-8,1h1v1h-1zm8,0h1v1h-1zm-7,1h1v1h-1zm6,0h1v1h-1zm-6,1h2v1h-2zm5,0h2v1h-2zm-3,1h3v1h-3z"/>
<path fill="#fff" d="M1021,183m3,0h3v1h-3zm-2,1h7v1h-7zm0,1h7v1h-7zm-1,1h9v1h-9zm0,1h9v1h-9zm0,1h9v1h-9zm1,1h7v1h-7zm0,1h7v1h-7zm2,1h3v1h-3z"/><path d="M1021,183m3,0h3v1h-3zm-2,1h2v1h-2zm5,0h2v1h-2zm-5,1h1v1h-1zm6,0h1v1h-1zm-7,1h1v1h-1zm8,0h1v1h-1zm-8,1h1v1h-1zm8,0h1v1h-1zm-8,1h1v1h-1zm8,0h1v1h-1zm-7,1h1v1h-1zm6,0h1v1h-1zm-6,1h2v1h-2zm5,0h2v1h-2zm-3,1h3v1h-3z"/>
<path fill="#fff" d="M1029,183m3,0h3v1h-3zm-2,1h7v1h-7zm0,1h7v1h-7zm-1,1h9v1h-9zm0,1h9v1h-9zm0,1h9v1h-9zm1,1h7v1h-7zm0,1h7v1h-7zm2,1h3v1h-3z"/><path d="M1029,183m3,0h3v1h-3zm-2,1h2v1h-2zm5,0h2v1h-2zm-5,1h1v1h-1zm6,0h1v1h-1zm-7,1h1v1h-1zm8,0h1v1h-1zm-8,1h1v1h-1zm8,0h1v1h-1zm-8,1h1v1h-1zm8,0h1v1h-1zm-7,1h1v1h-1zm6,0h1v1h-1zm-6,1h2v1h-2zm5,0h2v1h-2zm-3,1h3v1h-3z"/>
<path fill="#fff" d="M1037,183m3,0h3v1h-3zm-2,1h7v1h-7zm0,1h7v1h-7zm-1,1h9v1h-9zm0,1h9v1h-9zm0,1h9v1h-9zm1,1h7v1h-7zm0,1h7v1h-7zm2,1h3v1h-3z"/><path d="M1037,183m3,0h3v1h-3zm-2,1h2v1h-2zm5,0h2v1h-2zm-5,1h1v1h-1zm6,0h1v1h-1zm-7,1h1v1h-1zm8,0h1v1h-1zm-8,1h1v1h-1zm8,0h1v1h-1zm-8,1h1v1h-1zm8,0h1v1h-1zm-7,1h1v1h-1zm6,0h1v1h-1zm-6,1h2v1h-2zm5,0h2v1h-2zm-3,1h3v1h-3z"/>
<path fill="#fff" d="M1045,183m3,0h3v1h-3zm-2,1h7v1h-7zm0,1h7v1h-7zm-1,1h9v1h-9zm0,1h9v1h-9zm0,1h9v1h-9zm1,1h7v1h-7zm0,1h7v1h-7zm2,1h3v1h-3z"/><path d="M1045,183m3,0h3v1h-3zm-2,1h2v1h-2zm5,0h2v1h-2zm-5,1h1v1h-1zm6,0h1v1h-1zm-7,1h1v1h-1zm8,0h1v1h-1zm-8,1h1v1h-1zm8,0h1v1h-1zm-8,1h1v1h-1zm8,0h1v1h-1zm-7,1h1v1h-1zm6,0h1v1h-1zm-6,1h2v1h-2zm5,0h2v1h-2zm-3,1h3v1h-3z"/>
<path fill="#fff" d="M1053,174m3,0h3v1h-3zm-2,1h7v1h-7zm0,1h7v1h-7zm-1,1h9v1h-9zm0,1h9v1h-9zm0,1h9v1h-9zm1,1h7v1h-7zm0,1h7v1h-7zm2,1h3v1h-3z"/><path d="M1053,174m3,0h3v1h-3zm-2,1h2v1h-2zm5,0h2v1h-2zm-5,1h1v1h-1zm6,0h1v1h-1zm-7,1h1v1h-1zm8,0h1v1h-1zm-8,1h1v1h-1zm8,0h1v1h-1zm-8,1h1v1h-1zm8,0h1v1h-1zm-7,1h1v1h-1zm6,0h1v1h-1zm-6,1h2v1h-2zm5,0h2v1h-2zm-3,1h3v1h-3z"/>
<path fill="#fff" d="M1061,174m3,0h3v1h-3zm-2,1h7v1h-7zm0,1h7v1h-7zm-1,1h9v1h-9zm0,1h9v1h-9zm0,1h9v1h-9zm1,1h7v1h-7zm0,1h7v1h-7zm2,1h3v1h-3z"/><path d="M1061,174m3,0h3v1h-3zm-2,1h2v1h-2zm5,0h2v1h-2zm-5,1h1v1h-1zm6,0h1v1h-1zm-7,1h1v1h-1zm8,0h1v1h-1zm-8,1h1v1h-1zm8,0h1v1h-1zm-8,1h1v1h-1zm8,0h1v1h-1zm-7,1h1v1h-1zm6,0h1v1h-1zm-6,1h2v1h-2zm5,0h2v1h-2zm-3,1h3v1h-3z"/>
<path fill="#fff" d="M1069,174m3,0h3v1h-3zm-2,1h7v1h-7zm0,1h7v1h-7zm-1,1h9v1h-9zm0,1h9v1h-9zm0,1h9v1h-9zm1,1h7v1h-7zm0,1h7v1h-7zm2,1h3v1h-3z"/><path d="M1069,174m3,0h3v1h-3zm-2,1h2v1h-2zm5,0h2v1h-2zm-5,1h1v1h-1zm6,0h1v1h-1zm-7,1h1v1h-1zm8,0h1v1h-1zm-8,1h1v1h-1zm8,0h1v1h-1zm-8,1h1v1h-1zm8,0h1v1h-1zm-7,1h1v1h-1zm6,0h1v1h-1zm-6,1h2v1h-2zm5,0h2v1h-2zm-3,1h3v1h-3z"/>
<path fill="#fff" d="M1077,174m3,0h3v1h-3zm-2,1h7v1h-7zm0,1h7v1h-7zm-1,1h9v1h-9zm0,1h9v1h-9zm0,1h9v1h-9zm1,1h7v1h-7zm0,1h7v1h-7zm2,1h3v1h-3z"/><path d="M1077,174m3,0h3v1h-3zm-2,1h2v1h-2zm5,0h2v1h-2zm-5,1h1v1h-1zm6,0h1v1h-1zm-7,1h1v1h-1zm8,0h1v1h-1zm-8,1h1v1h-1zm8,0h1v1h-1zm-8,1h1v1h-1zm8,0h1v1h-1zm-7,1h1v1h-1zm6,0h1v1h-1zm-6,1h2v1h-2zm5,0h2v1h-2zm-3,1h3v1h-3z"/>
<path fill="#fff" d="M1085,173m3,0h3v1h-3zm-2,1h7v1h-7zm0,1h7v1h-7zm-1,1h9v1h-9zm0,1h9v1h-9zm0,1h9v1h-9zm1,1h7v1h-7zm0,1h7v1h-7zm2,1h3v1h-3z"/><path d="M1085,173m3,0h3v1h-3zm-2,1h2v1h-2zm5,0h2v1h-2zm-5,1h1v1h-1zm6,0h1v1h-1zm-7,1h1v1h-1zm8,0h1v1h-1zm-8,1h1v1h-1zm8,0h1v1h-1zm-8,1h1v1h-1zm8,0h1v1h-1zm-7,1h1v1h-1zm6,0h1v1h-1zm-6,1h2v1h-2zm5,0h2v1h-2zm-3,1h3v1h-3z"/>
<path fill="#fff" d="M1093,173m3,0h3v1h-3zm-2,1h7v1h-7zm0,1h7v1h-7zm-1,1h9v1h-9zm0,1h9v1h-9zm0,1h9v1h-9zm1,1h7v1h-7zm0,1h7v1h-7zm2,1h3v1h-3z"/><path d="M1093,173m3,0h3v1h-3zm-2,1h2v1h-2zm5,0h2v1h-2zm-5,1h1v1h-1zm6,0h1v1h-1zm-7,1h1v1h-1zm8,0h1v1h-1zm-8,1h1v1h-1zm8,0h1v1h-1zm-8,1h1v1h-1zm8,0h1v1h-1zm-7,1h1v1h-1zm6,0h1v1h-1zm-6,1h2v1h-2zm5,0h2v1h-2zm-3,1h3v1h-3z"/>
<path fill="#fff" d="M1101,173m3,0h3v1h-3zm-2,1h7v1h-7zm0,1h7v1h-7zm-1,1h9v1h-9zm0,1h9v1h-9zm0,1h9v1h-9zm1,1h7v1h-7zm0,1h7v1h-7zm2,1h3v1h-3z"/><path d="M1101,173m3,0h3v1h-3zm-2,1h2v1h-2zm5,0h2v1h-2zm-5,1h1v1h-1zm6,0h1v1h-1zm-7,1h1v1h-1zm8,0h1v1h-1zm-8,1h1v1h-1zm8,0h1v1h-1zm-8,1h1v1h-1zm8,0h1v1h-1zm-7,1h1v1h-1zm6,0h1v1h-1zm-6,1h2v1h-2zm5,0h2v1h-2zm-3,1h3v1h-3z"/>
<path fill="#fff" d="M1109,173m3,0h3v1h-3zm-2,1h7v1h-7zm0,1h7v1h-7zm-1,1h9v1h-9zm0,1h9v1h-9zm0,1h9v1h-9zm1,1h7v1h-7zm0,1h7v1h-7zm2,1h3v1h-3z"/><path d="M1109,173m3,0h3v1h-3zm-2,1h2v1h-2zm5,0h2v1h-2zm-5,1h1v1h-1zm6,0h1v1h-1zm-7,1h1v1h-1zm8,0h1v1h-1zm-8,1h1v1h-1zm8,0h1v1h-1zm-8,1h1v1h-1zm8,0h1v1h-1zm-7,1h1v1h-1zm6,0h1v1h-1zm-6,1h2v1h-2zm5,0h2v1h-2zm-3,1h3v1h-3z"/>
<path fill="#fff" d="M1117,173m3,0h3v1h-3zm-2,1h7v1h-7zm0,1h7v1h-7zm-1,1h9v1h-9zm0,1h9v1h-9zm0,1h9v1h-9zm1,1h7v1h-7zm0,1h7v1h-7zm2,1h3v1h-3z"/><path d="M1117,173m3,0h3v1h-3zm-2,1h2v1h-2zm5,0h2v1h-2zm-5,1h1v1h-1zm6,0h1v1h-1zm-7,1h1v1h-1zm8,0h1v1h-1zm-8,1h1v1h-1zm8,0h1v1h-1zm-8,1h1v1h-1zm8,0h1v1h-1zm-7,1h1v1h-1zm6,0h1v1h-1zm-6,1h2v1h-2zm5,0h2v1h-2zm-3,1h3v1h-3z"/>
<path fill="#fff" d="M1125,173m3,0h3v1h-3zm-2,1h7v1h-7zm0,1h7v1h-7zm-1,1h9v1h-9zm0,1h9v1h-9zm0,1h9v1h-9zm1,1h7v1h-7zm0,1h7v1h-7zm2,1h3v1h-3z"/><path d="M1125,173m3,0h3v1h-3zm-2,1h2v1h-2zm5,0h2v1h-2zm-5,1h1v1h-1zm6,0h1v1h-1zm-7,1h1v1h-1zm8,0h1v1h-1zm-8,1h1v1h-1zm8,0h1v1h-1zm-8,1h1v1h-1zm8,0h1v1h-1zm-7,1h1v1h-1zm6,0h1v1h-1zm-6,1h2v1h-2zm5,0h2v1h-2zm-3,1h3v1h-3z"/>
<path fill="#fff" d="M1133,173m3,0h3v1h-3zm-2,1h7v1h-7zm0,1h7v1h-7zm-1,1h9v1h-9zm0,1h9v1h-9zm0,1h9v1h-9zm1,1h7v1h-7zm0,1h7v1h-7zm2,1h3v1h-3z"/><path d="M1133,173m3,0h3v1h-3zm-2,1h2v1h-2zm5,0h2v1h-2zm-5,1h1v1h-1zm6,0h1v1h-1zm-7,1h1v1h-1zm8,0h1v1h-1zm-8,1h1v1h-1zm8,0h1v1h-1zm-8,1h1v1h-1zm8,0h1v1h-1zm-7,1h1v1h-1zm6,0h1v1h-1zm-6,1h2v1h-2zm5,0h2v1h-2zm-3,1h3v1h-3z"/>
<path fill="#fff" d="M1141,173m3,0h3v1h-3zm-2,1h7v1h-7zm0,1h7v1h-7zm-1,1h9v1h-9zm0,1h9v1h-9zm0,1h9v1h-9zm1,1h7v1h-7zm0,1h7v1h-7zm2,1h3v1h-3z"/><path d="M1141,173m3,0h3v1h-3zm-2,1h2v1h-2zm5,0h2v1h-2zm-5,1h1v1h-1zm6,0h1v1h-1zm-7,1h1v1h-1zm8,0h1v1h-1zm-8,1h1v1h-1zm8,0h1v1h-1zm-8,1h1v1h-1zm8,0h1v1h-1zm-7,1h1v1h-1zm6,0h1v1h-1zm-6,1h2v1h-2zm5,0h2v1h-2zm-3,1h3v1h-3z"/>
</g>
</g>
<g stroke="#a0a0a0" stroke-width="1" shape-rendering="crispEdges">
<line x1="218" y1="821.5" x2="1146" y2="821.5" stroke-dasharray="2 7.83"/>
<line x1="218" y1="754.5" x2="1146" y2="754.5" stroke-dasharray="2 7.83"/>
<line x1="218" y1="686.5" x2="1146" y2="686.5" stroke-dasharray="2 7.83"/>
<line x1="218" y1="619.5" x2="1146" y2="619.5" stroke-dasharray="2 7.83"/>
<line x1="218" y1="552.5" x2="1146" y2="552.5" stroke-dasharray="2 7.83"/>
<line x1="218" y1="484.5" x2="1146" y2="484.5" stroke-dasharray="2 7.83"/>
<line x1="218" y1="417.5" x2="1146" y2="417.5" stroke-dasharray="2 7.83"/>
<line x1="218" y1="349.5" x2="1146" y2="349.5" stroke-dasharray="2 7.83"/>
<line x1="218" y1="282.5" x2="1146" y2="282.5" stroke-dasharray="2 7.83"/>
<line x1="218" y1="215.5" x2="1146" y2="215.5" stroke-dasharray="2 7.83"/>
<line x1="218" y1="147.5" x2="1146" y2="147.5" stroke-dasharray="2 7.83"/>
<line x1="218" y1="80.5" x2="1146" y2="80.5" stroke-dasharray="2 7.83"/>
<line x1="218.5" y1="822" x2="218.5" y2="79" stroke-dasharray="2 7.528"/>
<line x1="282.5" y1="822" x2="282.5" y2="79" stroke-dasharray="2 7.528"/>
<line x1="346.5" y1="822" x2="346.5" y2="79" stroke-dasharray="2 7.528"/>
<line x1="410.5" y1="822" x2="410.5" y2="79" stroke-dasharray="2 7.528"/>
<line x1="474.5" y1="822" x2="474.5" y2="79" stroke-dasharray="2 7.528"/>
<line x1="538.5" y1="822" x2="538.5" y2="79" stroke-dasharray="2 7.528"/>
<line x1="602.5" y1="822" x2="602.5" y2="79" stroke-dasharray="2 7.528"/>
<line x1="665.5" y1="822" x2="665.5" y2="79" stroke-dasharray="2 7.528"/>
<line x1="729.5" y1="822" x2="729.5" y2="79" stroke-dasharray="2 7.528"/>
<line x1="793.5" y1="822" x2="793.5" y2="79" stroke-dasharray="2 7.528"/>
<line x1="857.5" y1="822" x2="857.5" y2="79" stroke-dasharray="2 7.528"/>
<line x1="921.5" y1="822" x2="921.5" y2="79" stroke-dasharray="2 7.528"/>
<line x1="985.5" y1="822" x2="985.5" y2="79" stroke-dasharray="2 7.528"/>
<line x1="1049.5" y1="822" x2="1049.5" y2="79" stroke-dasharray="2 7.528"/>
<line x1="1113.5" y1="822" x2="1113.5" y2="79" stroke-dasharray="2 7.528"/>
</g>
<path fill="none" stroke="#000" stroke-width="2" stroke-linecap="square" stroke-linejoin="round" shape-rendering="crispEdges" d="M218.00,9.50L218.00,30.00M226.00,9.50L226.00,30.00M226.00,9.50L233.00,30.00M240.00,9.50L233.00,30.00M240.00,9.50L240.00,30.00M249.00,9.50L249.00,30.00M249.00,9.50L261.00,30.00M261.00,9.50L261.00,30.00M271.00,21.22L286.00,21.22M293.00,9.50L297.50,30.00M302.00,9.50L297.50,30.00M302.00,9.50L306.50,30.00M311.00,9.50L306.50,30.00M317.00,9.50L317.00,30.00M317.00,9.50L325.36,9.50L328.14,10.48L329.07,11.46L330.00,13.41L330.00,15.36L329.07,17.31L328.14,18.29L325.36,19.26L317.00,19.26M323.50,19.26L330.00,30.00M336.00,9.50L336.00,30.00M336.00,9.50L348.00,9.50M336.00,19.26L343.38,19.26M388.00,9.50L388.00,30.00M388.00,30.00L399.00,30.00M405.00,9.50L405.00,30.00M413.00,16.34L413.00,26.10L413.91,29.02L415.73,30.00L418.45,30.00L420.27,29.02L423.00,26.10M423.00,16.34L423.00,30.00M429.00,16.34L434.50,30.00M440.00,16.34L434.50,30.00M445.08,9.50L446.00,10.48L446.92,9.50L446.00,8.53L445.08,9.50M446.00,16.34L446.00,30.00M464.30,16.34L464.30,30.00M464.30,19.26L462.50,17.31L460.70,16.34L458.00,16.34L456.20,17.31L454.40,19.26L453.50,22.19L453.50,24.14L454.40,27.07L456.20,29.02L458.00,30.00L460.70,30.00L462.50,29.02L464.30,27.07M493.15,9.50L486.30,30.00M493.15,9.50L500.00,30.00M488.87,23.17L497.43,23.17M515.30,19.26L513.70,17.31L512.10,16.34L509.70,16.34L508.10,17.31L506.50,19.26L505.70,22.19L505.70,24.14L506.50,27.07L508.10,29.02L509.70,30.00L512.10,30.00L513.70,29.02L515.30,27.07M523.60,16.34L523.60,26.10L524.40,29.02L526.00,30.00L528.40,30.00L530.00,29.02L532.40,26.10M532.40,16.34L532.40,30.00M541.70,16.34L541.70,30.00M541.70,20.24L544.47,17.31L546.31,16.34L549.08,16.34L550.93,17.31L551.85,20.24L551.85,30.00M551.85,20.24L554.62,17.31L556.46,16.34L559.23,16.34L561.08,17.31L562.00,20.24L562.00,30.00M571.00,16.34L571.00,26.10L571.91,29.02L573.73,30.00L576.45,30.00L578.27,29.02L581.00,26.10M581.00,16.34L581.00,30.00M588.00,9.50L588.00,30.00M607.00,16.34L607.00,30.00M607.00,19.26L605.17,17.31L603.33,16.34L600.58,16.34L598.75,17.31L596.92,19.26L596.00,22.19L596.00,24.14L596.92,27.07L598.75,29.02L600.58,30.00L603.33,30.00L605.17,29.02L607.00,27.07M625.50,9.50L625.50,30.00M625.50,19.26L623.58,17.31L621.67,16.34L618.79,16.34L616.88,17.31L614.96,19.26L614.00,22.19L614.00,24.14L614.96,27.07L616.88,29.02L618.79,30.00L621.67,30.00L623.58,29.02L625.50,27.07M643.50,16.34L643.50,30.00M643.50,19.26L641.58,17.31L639.67,16.34L636.79,16.34L634.88,17.31L632.96,19.26L632.00,22.19L632.00,24.14L632.96,27.07L634.88,29.02L636.79,30.00L639.67,30.00L641.58,29.02L643.50,27.07M657.00,5.60L655.09,7.55L653.17,10.48L651.26,14.38L650.30,19.26L650.30,23.17L651.26,28.05L653.17,31.95L655.09,34.88L657.00,36.83M679.50,9.50L679.50,30.00M679.50,30.00L691.00,30.00M696.34,9.50L697.25,10.48L698.16,9.50L697.25,8.53L696.34,9.50M697.25,16.34L697.25,30.00M703.50,9.50L703.50,30.00M703.50,19.26L705.42,17.31L707.33,16.34L710.21,16.34L712.12,17.31L714.04,19.26L715.00,22.19L715.00,24.14L714.04,27.07L712.12,29.02L710.21,30.00L707.33,30.00L705.42,29.02L703.50,27.07M722.30,22.19L732.30,22.19L732.30,20.24L731.47,18.29L730.63,17.31L728.97,16.34L726.47,16.34L724.80,17.31L723.13,19.26L722.30,22.19L722.30,24.14L723.13,27.07L724.80,29.02L726.47,30.00L728.97,30.00L730.63,29.02L732.30,27.07M739.70,16.34L739.70,30.00M739.70,22.19L740.61,19.26L742.44,17.31L744.26,16.34L747.00,16.34M751.74,9.50L752.65,10.48L753.56,9.50L752.65,8.53L751.74,9.50M752.65,16.34L752.65,30.00M771.00,16.34L771.00,30.00M771.00,19.26L769.22,17.31L767.43,16.34L764.76,16.34L762.97,17.31L761.19,19.26L760.30,22.19L760.30,24.14L761.19,27.07L762.97,29.02L764.76,30.00L767.43,30.00L769.22,29.02L771.00,27.07M780.56,29.02L779.65,30.00L778.74,29.02L779.65,28.05L780.56,29.02L780.56,30.98L779.65,32.93L778.74,33.90M807.70,13.41L809.54,12.43L812.30,9.50L812.30,30.00M828.44,9.50L825.72,10.48L823.91,13.41L823.00,18.29L823.00,21.22L823.91,26.10L825.72,29.02L828.44,30.00L830.26,30.00L832.98,29.02L834.79,26.10L835.70,21.22L835.70,18.29L834.79,13.41L832.98,10.48L830.26,9.50L828.44,9.50M844.35,28.05L843.44,29.02L844.35,30.00L845.26,29.02L844.35,28.05M853.60,9.50L864.05,9.50L858.35,17.31L861.20,17.31L863.10,18.29L864.05,19.26L865.00,22.19L865.00,24.14L864.05,27.07L862.15,29.02L859.30,30.00L856.45,30.00L853.60,29.02L852.65,28.05L851.70,26.10M882.40,9.50L872.90,9.50L871.95,18.29L872.90,17.31L875.75,16.34L878.60,16.34L881.45,17.31L883.35,19.26L884.30,22.19L884.30,24.14L883.35,27.07L881.45,29.02L878.60,30.00L875.75,30.00L872.90,29.02L871.95,28.05L871.00,26.10M925.70,9.50L925.70,30.00M925.70,9.50L938.30,30.00M938.30,9.50L938.30,30.00M967.34,9.50L964.56,10.48L963.63,12.43L963.63,14.38L964.56,16.34L966.41,17.31L970.13,18.29L972.91,19.26L974.77,21.22L975.70,23.17L975.70,26.10L974.77,28.05L973.84,29.02L971.06,30.00L967.34,30.00L964.56,29.02L962.70,27.07L962.70,26.10L962.70,23.17L963.63,21.22L965.49,19.26L968.27,18.29L971.99,17.31L973.84,16.34L974.77,14.38L974.77,12.43L973.84,10.48L971.06,9.50L967.34,9.50M993.34,9.50L984.06,9.50L983.13,18.29L984.06,17.31L986.84,16.34L989.63,16.34L992.41,17.31L994.27,19.26L995.20,22.19L995.20,24.14L994.27,27.07L992.41,29.02L989.63,30.00L986.84,30.00L984.06,29.02L983.13,28.05L982.20,26.10M1002.20,28.05L1001.29,29.02L1002.20,30.00L1003.12,29.02L1002.20,28.05M1010.96,9.50L1020.62,9.50L1015.35,17.31L1017.99,17.31L1019.74,18.29L1020.62,19.26L1021.50,22.19L1021.50,24.14L1020.62,27.07L1018.86,29.02L1016.23,30.00L1013.59,30.00L1010.96,29.02L1010.08,28.05L1009.20,26.10M1031.96,9.50L1041.62,9.50L1036.35,17.31L1038.99,17.31L1040.74,18.29L1041.62,19.26L1042.50,22.19L1042.50,24.14L1041.62,27.07L1039.86,29.02L1037.23,30.00L1034.59,30.00L1031.96,29.02L1031.08,28.05L1030.20,26.10M1088.44,9.50L1086.52,10.48L1084.61,12.43L1083.66,14.38L1082.70,17.31L1082.70,22.19L1083.66,25.12L1084.61,27.07L1086.52,29.02L1088.44,30.00L1092.26,30.00L1094.17,29.02L1096.09,27.07L1097.04,25.12L1098.00,22.19L1098.00,17.31L1097.04,14.38L1096.09,12.43L1094.17,10.48L1092.26,9.50L1088.44,9.50M1103.70,5.60L1105.50,7.55L1107.30,10.48L1109.10,14.38L1110.00,19.26L1110.00,23.17L1109.10,28.05L1107.30,31.95L1105.50,34.88L1103.70,36.83M412.00,48.00L412.00,62.00M412.00,52.00L414.73,49.00L416.55,48.00L419.27,48.00L421.09,49.00L422.00,52.00L422.00,62.00M433.62,48.00L431.77,49.00L429.92,51.00L429.00,54.00L429.00,56.00L429.92,59.00L431.77,61.00L433.62,62.00L436.38,62.00L438.23,61.00L440.08,59.00L441.00,56.00L441.00,54.00L440.08,51.00L438.23,49.00L436.38,48.00L433.62,48.00M446.00,48.00L451.50,62.00M457.00,48.00L451.50,62.00M462.08,41.00L463.00,42.00L463.92,41.00L463.00,40.00L462.08,41.00M463.00,48.00L463.00,62.00M470.00,54.00L481.00,54.00L481.00,52.00L480.08,50.00L479.17,49.00L477.33,48.00L474.58,48.00L472.75,49.00L470.92,51.00L470.00,54.00L470.00,56.00L470.92,59.00L472.75,61.00L474.58,62.00L477.33,62.00L479.17,61.00L481.00,59.00M488.00,48.00L488.00,62.00M488.00,52.00L490.80,49.00L492.66,48.00L495.45,48.00L497.32,49.00L498.25,52.00L498.25,62.00M498.25,52.00L501.05,49.00L502.91,48.00L505.70,48.00L507.57,49.00L508.50,52.00L508.50,62.00M516.00,41.00L516.00,62.00M516.00,51.00L517.83,49.00L519.67,48.00L522.42,48.00L524.25,49.00L526.08,51.00L527.00,54.00L527.00,56.00L526.08,59.00L524.25,61.00L522.42,62.00L519.67,62.00L517.83,61.00L516.00,59.00M534.00,48.00L534.00,62.00M534.00,54.00L534.88,51.00L536.62,49.00L538.38,48.00L541.00,48.00M546.00,54.00L557.00,54.00L557.00,52.00L556.08,50.00L555.17,49.00L553.33,48.00L550.58,48.00L548.75,49.00L546.92,51.00L546.00,54.00L546.00,56.00L546.92,59.00L548.75,61.00L550.58,62.00L553.33,62.00L555.17,61.00L557.00,59.00M565.00,53.00L581.00,53.00M589.36,46.00L589.36,45.00L590.21,43.00L591.07,42.00L592.79,41.00L596.21,41.00L597.93,42.00L598.79,43.00L599.64,45.00L599.64,47.00L598.79,49.00L597.07,52.00L588.50,62.00L600.50,62.00M612.86,41.00L610.18,42.00L608.39,45.00L607.50,50.00L607.50,53.00L608.39,58.00L610.18,61.00L612.86,62.00L614.64,62.00L617.32,61.00L619.11,58.00L620.00,53.00L620.00,50.00L619.11,45.00L617.32,42.00L614.64,41.00L612.86,41.00M627.39,46.00L627.39,45.00L628.29,43.00L629.18,42.00L630.96,41.00L634.54,41.00L636.32,42.00L637.21,43.00L638.11,45.00L638.11,47.00L637.21,49.00L635.43,52.00L626.50,62.00L639.00,62.00M655.96,41.00L647.24,41.00L646.37,50.00L647.24,49.00L649.86,48.00L652.47,48.00L655.09,49.00L656.83,51.00L657.70,54.00L657.70,56.00L656.83,59.00L655.09,61.00L652.47,62.00L649.86,62.00L647.24,61.00L646.37,60.00L645.50,58.00M683.00,41.00L683.00,62.00M683.00,41.00L690.00,62.00M697.00,41.00L690.00,62.00M697.00,41.00L697.00,62.00M704.00,54.00L715.00,54.00L715.00,52.00L714.08,50.00L713.17,49.00L711.33,48.00L708.58,48.00L706.75,49.00L704.92,51.00L704.00,54.00L704.00,56.00L704.92,59.00L706.75,61.00L708.58,62.00L711.33,62.00L713.17,61.00L715.00,59.00M732.00,51.00L731.09,49.00L728.36,48.00L725.64,48.00L722.91,49.00L722.00,51.00L722.91,53.00L724.73,54.00L729.27,55.00L731.09,56.00L732.00,58.00L732.00,59.00L731.09,61.00L728.36,62.00L725.64,62.00L722.91,61.00L722.00,59.00M769.00,46.00L768.11,44.00L766.34,42.00L764.57,41.00L761.02,41.00L759.25,42.00L757.47,44.00L756.59,46.00L755.70,49.00L755.70,54.00L756.59,57.00L757.47,59.00L759.25,61.00L761.02,62.00L764.57,62.00L766.34,61.00L768.11,59.00L769.00,57.00M777.35,60.00L776.44,61.00L777.35,62.00L778.26,61.00L777.35,60.00M786.00,41.00L786.00,62.00M794.50,60.00L793.59,61.00L794.50,62.00L795.41,61.00L794.50,60.00M804.00,48.00L803.09,49.00L804.00,50.00L804.91,49.00L804.00,48.00M804.00,60.00L803.09,61.00L804.00,62.00L804.91,61.00L804.00,60.00M833.35,48.00L831.61,49.00L829.87,51.00L829.00,54.00L829.00,56.00L829.87,59.00L831.61,61.00L833.35,62.00L835.95,62.00L837.69,61.00L839.43,59.00L840.30,56.00L840.30,54.00L839.43,51.00L837.69,49.00L835.95,48.00L833.35,48.00M856.30,51.00L854.63,49.00L852.97,48.00L850.47,48.00L848.80,49.00L847.13,51.00L846.30,54.00L846.30,56.00L847.13,59.00L848.80,61.00L850.47,62.00L852.97,62.00L854.63,61.00L856.30,59.00M867.20,41.00L867.20,58.00L868.00,61.00L869.60,62.00L871.20,62.00M864.80,48.00L870.40,48.00M878.25,48.00L878.25,58.00L879.05,61.00L880.65,62.00L883.05,62.00L884.65,61.00L887.05,58.00M887.05,48.00L887.05,62.00M894.30,41.00L894.30,62.00M894.30,51.00L896.08,49.00L897.87,48.00L900.54,48.00L902.33,49.00L904.11,51.00L905.00,54.00L905.00,56.00L904.11,59.00L902.33,61.00L900.54,62.00L897.87,62.00L896.08,61.00L894.30,59.00M912.30,48.00L912.30,62.00M912.30,54.00L913.14,51.00L914.81,49.00L916.49,48.00L919.00,48.00M923.00,54.00L934.30,54.00L934.30,52.00L933.36,50.00L932.42,49.00L930.53,48.00L927.71,48.00L925.83,49.00L923.94,51.00L923.00,54.00L923.00,56.00L923.94,59.00L925.83,61.00L927.71,62.00L930.53,62.00L932.42,61.00L934.30,59.00"/>
<path fill="none" stroke="#000" stroke-width="1" stroke-linecap="round" stroke-linejoin="round" shape-rendering="crispEdges" d="M187.61,818.07L187.16,817.02L185.80,816.50L184.90,816.50L183.54,817.02L182.64,818.59L182.18,821.21L182.18,823.83L182.64,825.93L183.54,826.98L184.90,827.50L185.35,827.50L186.70,826.98L187.61,825.93L188.06,824.36L188.06,823.83L187.61,822.26L186.70,821.21L185.35,820.69L184.90,820.69L183.54,821.21L182.64,822.26L182.18,823.83M193.76,816.50L192.41,817.02L191.50,818.59L191.05,821.21L191.05,822.78L191.50,825.40L192.41,826.98L193.76,827.50L194.67,827.50L196.02,826.98L196.93,825.40L197.38,822.78L197.38,821.21L196.93,818.59L196.02,817.02L194.67,816.50L193.76,816.50M203.08,816.50L201.73,817.02L200.82,818.59L200.37,821.21L200.37,822.78L200.82,825.40L201.73,826.98L203.08,827.50L203.99,827.50L205.34,826.98L206.25,825.40L206.70,822.78L206.70,821.21L206.25,818.59L205.34,817.02L203.99,816.50L203.08,816.50M188.06,749.50L183.54,760.50M181.73,749.50L188.06,749.50M193.76,749.50L192.41,750.02L191.50,751.59L191.05,754.21L191.05,755.78L191.50,758.40L192.41,759.98L193.76,760.50L194.67,760.50L196.02,759.98L196.93,758.40L197.38,755.78L197.38,754.21L196.93,751.59L196.02,750.02L194.67,749.50L193.76,749.50M203.08,749.50L201.73,750.02L200.82,751.59L200.37,754.21L200.37,755.78L200.82,758.40L201.73,759.98L203.08,760.50L203.99,760.50L205.34,759.98L206.25,758.40L206.70,755.78L206.70,754.21L206.25,751.59L205.34,750.02L203.99,749.50L203.08,749.50M183.99,681.50L182.64,682.02L182.18,683.07L182.18,684.12L182.64,685.16L183.54,685.69L185.35,686.21L186.70,686.74L187.61,687.78L188.06,688.83L188.06,690.40L187.61,691.45L187.16,691.98L185.80,692.50L183.99,692.50L182.64,691.98L181.73,690.93L181.73,690.40L181.73,688.83L182.18,687.78L183.09,686.74L184.44,686.21L186.25,685.69L187.16,685.16L187.61,684.12L187.61,683.07L187.16,682.02L185.80,681.50L183.99,681.50M193.76,681.50L192.41,682.02L191.50,683.59L191.05,686.21L191.05,687.78L191.50,690.40L192.41,691.98L193.76,692.50L194.67,692.50L196.02,691.98L196.93,690.40L197.38,687.78L197.38,686.21L196.93,683.59L196.02,682.02L194.67,681.50L193.76,681.50M203.08,681.50L201.73,682.02L200.82,683.59L200.37,686.21L200.37,687.78L200.82,690.40L201.73,691.98L203.08,692.50L203.99,692.50L205.34,691.98L206.25,690.40L206.70,687.78L206.70,686.21L206.25,683.59L205.34,682.02L203.99,681.50L203.08,681.50M187.61,618.16L187.16,619.74L186.25,620.78L184.90,621.31L184.44,621.31L183.09,620.78L182.18,619.74L181.73,618.16L181.73,617.64L182.18,616.07L183.09,615.02L184.44,614.50L184.90,614.50L186.25,615.02L187.16,616.07L187.61,618.16L187.61,620.78L187.16,623.40L186.25,624.98L184.90,625.50L183.99,625.50L182.64,624.98L182.18,623.93M193.76,614.50L192.41,615.02L191.50,616.59L191.05,619.21L191.05,620.78L191.50,623.40L192.41,624.98L193.76,625.50L194.67,625.50L196.02,624.98L196.93,623.40L197.38,620.78L197.38,619.21L196.93,616.59L196.02,615.02L194.67,614.50L193.76,614.50M203.08,614.50L201.73,615.02L200.82,616.59L200.37,619.21L200.37,620.78L200.82,623.40L201.73,624.98L203.08,625.50L203.99,625.50L205.34,624.98L206.25,623.40L206.70,620.78L206.70,619.21L206.25,616.59L205.34,615.02L203.99,614.50L203.08,614.50M173.77,549.59L174.67,549.07L176.03,547.50L176.03,558.50M184.44,547.50L183.09,548.02L182.18,549.59L181.73,552.21L181.73,553.78L182.18,556.40L183.09,557.98L184.44,558.50L185.35,558.50L186.70,557.98L187.61,556.40L188.06,553.78L188.06,552.21L187.61,549.59L186.70,548.02L185.35,547.50L184.44,547.50M193.76,547.50L192.41,548.02L191.50,549.59L191.05,552.21L191.05,553.78L191.50,556.40L192.41,557.98L193.76,558.50L194.67,558.50L196.02,557.98L196.93,556.40L197.38,553.78L197.38,552.21L196.93,549.59L196.02,548.02L194.67,547.50L193.76,547.50M203.08,547.50L201.73,548.02L200.82,549.59L200.37,552.21L200.37,553.78L200.82,556.40L201.73,557.98L203.08,558.50L203.99,558.50L205.34,557.98L206.25,556.40L206.70,553.78L206.70,552.21L206.25,549.59L205.34,548.02L203.99,547.50L203.08,547.50M173.77,481.59L174.67,481.07L176.03,479.50L176.03,490.50M183.09,481.59L183.99,481.07L185.35,479.50L185.35,490.50M193.76,479.50L192.41,480.02L191.50,481.59L191.05,484.21L191.05,485.78L191.50,488.40L192.41,489.98L193.76,490.50L194.67,490.50L196.02,489.98L196.93,488.40L197.38,485.78L197.38,484.21L196.93,481.59L196.02,480.02L194.67,479.50L193.76,479.50M203.08,479.50L201.73,480.02L200.82,481.59L200.37,484.21L200.37,485.78L200.82,488.40L201.73,489.98L203.08,490.50L203.99,490.50L205.34,489.98L206.25,488.40L206.70,485.78L206.70,484.21L206.25,481.59L205.34,480.02L203.99,479.50L203.08,479.50M173.77,414.59L174.67,414.07L176.03,412.50L176.03,423.50M182.18,415.12L182.18,414.59L182.64,413.54L183.09,413.02L183.99,412.50L185.80,412.50L186.70,413.02L187.16,413.54L187.61,414.59L187.61,415.64L187.16,416.69L186.25,418.26L181.73,423.50L188.06,423.50M193.76,412.50L192.41,413.02L191.50,414.59L191.05,417.21L191.05,418.78L191.50,421.40L192.41,422.98L193.76,423.50L194.67,423.50L196.02,422.98L196.93,421.40L197.38,418.78L197.38,417.21L196.93,414.59L196.02,413.02L194.67,412.50L193.76,412.50M203.08,412.50L201.73,413.02L200.82,414.59L200.37,417.21L200.37,418.78L200.82,421.40L201.73,422.98L203.08,423.50L203.99,423.50L205.34,422.98L206.25,421.40L206.70,418.78L206.70,417.21L206.25,414.59L205.34,413.02L203.99,412.50L203.08,412.50M173.77,346.59L174.67,346.07L176.03,344.50L176.03,355.50M182.64,344.50L187.61,344.50L184.90,348.69L186.25,348.69L187.16,349.21L187.61,349.74L188.06,351.31L188.06,352.36L187.61,353.93L186.70,354.98L185.35,355.50L183.99,355.50L182.64,354.98L182.18,354.45L181.73,353.40M193.76,344.50L192.41,345.02L191.50,346.59L191.05,349.21L191.05,350.78L191.50,353.40L192.41,354.98L193.76,355.50L194.67,355.50L196.02,354.98L196.93,353.40L197.38,350.78L197.38,349.21L196.93,346.59L196.02,345.02L194.67,344.50L193.76,344.50M203.08,344.50L201.73,345.02L200.82,346.59L200.37,349.21L200.37,350.78L200.82,353.40L201.73,354.98L203.08,355.50L203.99,355.50L205.34,354.98L206.25,353.40L206.70,350.78L206.70,349.21L206.25,346.59L205.34,345.02L203.99,344.50L203.08,344.50M173.77,279.59L174.67,279.07L176.03,277.50L176.03,288.50M186.25,277.50L181.73,284.83L188.51,284.83M186.25,277.50L186.25,288.50M193.76,277.50L192.41,278.02L191.50,279.59L191.05,282.21L191.05,283.78L191.50,286.40L192.41,287.98L193.76,288.50L194.67,288.50L196.02,287.98L196.93,286.40L197.38,283.78L197.38,282.21L196.93,279.59L196.02,278.02L194.67,277.50L193.76,277.50M203.08,277.50L201.73,278.02L200.82,279.59L200.37,282.21L200.37,283.78L200.82,286.40L201.73,287.98L203.08,288.50L203.99,288.50L205.34,287.98L206.25,286.40L206.70,283.78L206.70,282.21L206.25,279.59L205.34,278.02L203.99,277.50L203.08,277.50M173.77,212.59L174.67,212.07L176.03,210.50L176.03,221.50M187.16,210.50L182.64,210.50L182.18,215.21L182.64,214.69L183.99,214.16L185.35,214.16L186.70,214.69L187.61,215.74L188.06,217.31L188.06,218.36L187.61,219.93L186.70,220.98L185.35,221.50L183.99,221.50L182.64,220.98L182.18,220.45L181.73,219.40M193.76,210.50L192.41,211.02L191.50,212.59L191.05,215.21L191.05,216.78L191.50,219.40L192.41,220.98L193.76,221.50L194.67,221.50L196.02,220.98L196.93,219.40L197.38,216.78L197.38,215.21L196.93,212.59L196.02,211.02L194.67,210.50L193.76,210.50M203.08,210.50L201.73,211.02L200.82,212.59L200.37,215.21L200.37,216.78L200.82,219.40L201.73,220.98L203.08,221.50L203.99,221.50L205.34,220.98L206.25,219.40L206.70,216.78L206.70,215.21L206.25,212.59L205.34,211.02L203.99,210.50L203.08,210.50M173.77,144.59L174.67,144.07L176.03,142.50L176.03,153.50M187.61,144.07L187.16,143.02L185.80,142.50L184.90,142.50L183.54,143.02L182.64,144.59L182.18,147.21L182.18,149.83L182.64,151.93L183.54,152.98L184.90,153.50L185.35,153.50L186.70,152.98L187.61,151.93L188.06,150.36L188.06,149.83L187.61,148.26L186.70,147.21L185.35,146.69L184.90,146.69L183.54,147.21L182.64,148.26L182.18,149.83M193.76,142.50L192.41,143.02L191.50,144.59L191.05,147.21L191.05,148.78L191.50,151.40L192.41,152.98L193.76,153.50L194.67,153.50L196.02,152.98L196.93,151.40L197.38,148.78L197.38,147.21L196.93,144.59L196.02,143.02L194.67,142.50L193.76,142.50M203.08,142.50L201.73,143.02L200.82,144.59L200.37,147.21L200.37,148.78L200.82,151.40L201.73,152.98L203.08,153.50L203.99,153.50L205.34,152.98L206.25,151.40L206.70,148.78L206.70,147.21L206.25,144.59L205.34,143.02L203.99,142.50L203.08,142.50M173.77,77.59L174.67,77.07L176.03,75.50L176.03,86.50M188.06,75.50L183.54,86.50M181.73,75.50L188.06,75.50M193.76,75.50L192.41,76.02L191.50,77.59L191.05,80.21L191.05,81.78L191.50,84.40L192.41,85.98L193.76,86.50L194.67,86.50L196.02,85.98L196.93,84.40L197.38,81.78L197.38,80.21L196.93,77.59L196.02,76.02L194.67,75.50L193.76,75.50M203.08,75.50L201.73,76.02L200.82,77.59L200.37,80.21L200.37,81.78L200.82,84.40L201.73,85.98L203.08,86.50L203.99,86.50L205.34,85.98L206.25,84.40L206.70,81.78L206.70,80.21L206.25,77.59L205.34,76.02L203.99,75.50L203.08,75.50M201.90,832.59L202.82,832.07L204.21,830.50L204.21,841.50M210.51,830.50L210.51,841.50M210.51,830.50L216.97,841.50M216.97,830.50L216.97,841.50M223.29,830.50L222.37,831.02L221.44,832.07L220.98,833.12L220.52,834.69L220.52,837.31L220.98,838.88L221.44,839.93L222.37,840.98L223.29,841.50L225.14,841.50L226.06,840.98L226.98,839.93L227.44,838.88L227.91,837.31L227.91,834.69L227.44,833.12L226.98,832.07L226.06,831.02L225.14,830.50L223.29,830.50M230.04,830.50L233.73,841.50M237.43,830.50L233.73,841.50M265.44,830.50L270.51,830.50L267.74,834.69L269.13,834.69L270.05,835.21L270.51,835.74L270.98,837.31L270.98,838.36L270.51,839.93L269.59,840.98L268.21,841.50L266.82,841.50L265.44,840.98L264.97,840.45L264.51,839.40M274.51,830.50L274.51,841.50M274.51,830.50L280.97,841.50M280.97,830.50L280.97,841.50M287.29,830.50L286.37,831.02L285.44,832.07L284.98,833.12L284.52,834.69L284.52,837.31L284.98,838.88L285.44,839.93L286.37,840.98L287.29,841.50L289.14,841.50L290.06,840.98L290.98,839.93L291.44,838.88L291.91,837.31L291.91,834.69L291.44,833.12L290.98,832.07L290.06,831.02L289.14,830.50L287.29,830.50M294.04,830.50L297.73,841.50M301.43,830.50L297.73,841.50M334.05,830.50L329.44,830.50L328.97,835.21L329.44,834.69L330.82,834.16L332.21,834.16L333.59,834.69L334.51,835.74L334.98,837.31L334.98,838.36L334.51,839.93L333.59,840.98L332.21,841.50L330.82,841.50L329.44,840.98L328.97,840.45L328.51,839.40M338.51,830.50L338.51,841.50M338.51,830.50L344.97,841.50M344.97,830.50L344.97,841.50M351.29,830.50L350.37,831.02L349.44,832.07L348.98,833.12L348.52,834.69L348.52,837.31L348.98,838.88L349.44,839.93L350.37,840.98L351.29,841.50L353.14,841.50L354.06,840.98L354.98,839.93L355.44,838.88L355.91,837.31L355.91,834.69L355.44,833.12L354.98,832.07L354.06,831.02L353.14,830.50L351.29,830.50M358.04,830.50L361.73,841.50M365.43,830.50L361.73,841.50M398.98,830.50L394.36,841.50M392.51,830.50L398.98,830.50M402.51,830.50L402.51,841.50M402.51,830.50L408.97,841.50M408.97,830.50L408.97,841.50M415.29,830.50L414.37,831.02L413.44,832.07L412.98,833.12L412.52,834.69L412.52,837.31L412.98,838.88L413.44,839.93L414.37,840.98L415.29,841.50L417.14,841.50L418.06,840.98L418.98,839.93L419.44,838.88L419.91,837.31L419.91,834.69L419.44,833.12L418.98,832.07L418.06,831.02L417.14,830.50L415.29,830.50M422.04,830.50L425.73,841.50M429.43,830.50L425.73,841.50M462.51,834.16L462.05,835.74L461.13,836.78L459.74,837.31L459.28,837.31L457.90,836.78L456.97,835.74L456.51,834.16L456.51,833.64L456.97,832.07L457.90,831.02L459.28,830.50L459.74,830.50L461.13,831.02L462.05,832.07L462.51,834.16L462.51,836.78L462.05,839.40L461.13,840.98L459.74,841.50L458.82,841.50L457.44,840.98L456.97,839.93M466.51,830.50L466.51,841.50M466.51,830.50L472.97,841.50M472.97,830.50L472.97,841.50M479.29,830.50L478.37,831.02L477.44,832.07L476.98,833.12L476.52,834.69L476.52,837.31L476.98,838.88L477.44,839.93L478.37,840.98L479.29,841.50L481.14,841.50L482.06,840.98L482.98,839.93L483.44,838.88L483.91,837.31L483.91,834.69L483.44,833.12L482.98,832.07L482.06,831.02L481.14,830.50L479.29,830.50M486.04,830.50L489.73,841.50M493.43,830.50L489.73,841.50M517.14,832.59L518.06,832.07L519.45,830.50L519.45,841.50M526.66,832.59L527.58,832.07L528.97,830.50L528.97,841.50M535.27,830.50L535.27,841.50M535.27,830.50L541.73,841.50M541.73,830.50L541.73,841.50M548.05,830.50L547.13,831.02L546.20,832.07L545.74,833.12L545.28,834.69L545.28,837.31L545.74,838.88L546.20,839.93L547.13,840.98L548.05,841.50L549.90,841.50L550.82,840.98L551.74,839.93L552.20,838.88L552.67,837.31L552.67,834.69L552.20,833.12L551.74,832.07L550.82,831.02L549.90,830.50L548.05,830.50M554.80,830.50L558.49,841.50M562.19,830.50L558.49,841.50M581.14,832.59L582.06,832.07L583.45,830.50L583.45,841.50M590.20,830.50L595.27,830.50L592.50,834.69L593.89,834.69L594.81,835.21L595.27,835.74L595.74,837.31L595.74,838.36L595.27,839.93L594.35,840.98L592.97,841.50L591.58,841.50L590.20,840.98L589.73,840.45L589.27,839.40M599.27,830.50L599.27,841.50M599.27,830.50L605.73,841.50M605.73,830.50L605.73,841.50M612.05,830.50L611.13,831.02L610.20,832.07L609.74,833.12L609.28,834.69L609.28,837.31L609.74,838.88L610.20,839.93L611.13,840.98L612.05,841.50L613.90,841.50L614.82,840.98L615.74,839.93L616.20,838.88L616.67,837.31L616.67,834.69L616.20,833.12L615.74,832.07L614.82,831.02L613.90,830.50L612.05,830.50M618.80,830.50L622.49,841.50M626.19,830.50L622.49,841.50M644.14,832.59L645.06,832.07L646.45,830.50L646.45,841.50M657.81,830.50L653.20,830.50L652.73,835.21L653.20,834.69L654.58,834.16L655.97,834.16L657.35,834.69L658.27,835.74L658.74,837.31L658.74,838.36L658.27,839.93L657.35,840.98L655.97,841.50L654.58,841.50L653.20,840.98L652.73,840.45L652.27,839.40M662.27,830.50L662.27,841.50M662.27,830.50L668.73,841.50M668.73,830.50L668.73,841.50M675.05,830.50L674.13,831.02L673.20,832.07L672.74,833.12L672.28,834.69L672.28,837.31L672.74,838.88L673.20,839.93L674.13,840.98L675.05,841.50L676.90,841.50L677.82,840.98L678.74,839.93L679.20,838.88L679.67,837.31L679.67,834.69L679.20,833.12L678.74,832.07L677.82,831.02L676.90,830.50L675.05,830.50M681.80,830.50L685.49,841.50M689.19,830.50L685.49,841.50M708.14,832.59L709.06,832.07L710.45,830.50L710.45,841.50M722.74,830.50L718.12,841.50M716.27,830.50L722.74,830.50M726.27,830.50L726.27,841.50M726.27,830.50L732.73,841.50M732.73,830.50L732.73,841.50M739.05,830.50L738.13,831.02L737.20,832.07L736.74,833.12L736.28,834.69L736.28,837.31L736.74,838.88L737.20,839.93L738.13,840.98L739.05,841.50L740.90,841.50L741.82,840.98L742.74,839.93L743.20,838.88L743.67,837.31L743.67,834.69L743.20,833.12L742.74,832.07L741.82,831.02L740.90,830.50L739.05,830.50M745.80,830.50L749.49,841.50M753.19,830.50L749.49,841.50M772.14,832.59L773.06,832.07L774.45,830.50L774.45,841.50M786.27,834.16L785.81,835.74L784.89,836.78L783.50,837.31L783.04,837.31L781.66,836.78L780.73,835.74L780.27,834.16L780.27,833.64L780.73,832.07L781.66,831.02L783.04,830.50L783.50,830.50L784.89,831.02L785.81,832.07L786.27,834.16L786.27,836.78L785.81,839.40L784.89,840.98L783.50,841.50L782.58,841.50L781.20,840.98L780.73,839.93M790.27,830.50L790.27,841.50M790.27,830.50L796.73,841.50M796.73,830.50L796.73,841.50M803.05,830.50L802.13,831.02L801.20,832.07L800.74,833.12L800.28,834.69L800.28,837.31L800.74,838.88L801.20,839.93L802.13,840.98L803.05,841.50L804.90,841.50L805.82,840.98L806.74,839.93L807.20,838.88L807.67,837.31L807.67,834.69L807.20,833.12L806.74,832.07L805.82,831.02L804.90,830.50L803.05,830.50M809.80,830.50L813.49,841.50M817.19,830.50L813.49,841.50M835.21,833.12L835.21,832.59L835.68,831.54L836.14,831.02L837.06,830.50L838.91,830.50L839.83,831.02L840.29,831.54L840.75,832.59L840.75,833.64L840.29,834.69L839.37,836.26L834.75,841.50L841.22,841.50M845.66,832.59L846.58,832.07L847.97,830.50L847.97,841.50M854.27,830.50L854.27,841.50M854.27,830.50L860.73,841.50M860.73,830.50L860.73,841.50M867.05,830.50L866.13,831.02L865.20,832.07L864.74,833.12L864.28,834.69L864.28,837.31L864.74,838.88L865.20,839.93L866.13,840.98L867.05,841.50L868.90,841.50L869.82,840.98L870.74,839.93L871.20,838.88L871.67,837.31L871.67,834.69L871.20,833.12L870.74,832.07L869.82,831.02L868.90,830.50L867.05,830.50M873.80,830.50L877.49,841.50M881.19,830.50L877.49,841.50M899.21,833.12L899.21,832.59L899.68,831.54L900.14,831.02L901.06,830.50L902.91,830.50L903.83,831.02L904.29,831.54L904.75,832.59L904.75,833.64L904.29,834.69L903.37,836.26L898.75,841.50L905.22,841.50M909.20,830.50L914.27,830.50L911.50,834.69L912.89,834.69L913.81,835.21L914.27,835.74L914.74,837.31L914.74,838.36L914.27,839.93L913.35,840.98L911.97,841.50L910.58,841.50L909.20,840.98L908.73,840.45L908.27,839.40M918.27,830.50L918.27,841.50M918.27,830.50L924.73,841.50M924.73,830.50L924.73,841.50M931.05,830.50L930.13,831.02L929.20,832.07L928.74,833.12L928.28,834.69L928.28,837.31L928.74,838.88L929.20,839.93L930.13,840.98L931.05,841.50L932.90,841.50L933.82,840.98L934.74,839.93L935.20,838.88L935.67,837.31L935.67,834.69L935.20,833.12L934.74,832.07L933.82,831.02L932.90,830.50L931.05,830.50M937.80,830.50L941.49,841.50M945.19,830.50L941.49,841.50M963.21,833.12L963.21,832.59L963.68,831.54L964.14,831.02L965.06,830.50L966.91,830.50L967.83,831.02L968.29,831.54L968.75,832.59L968.75,833.64L968.29,834.69L967.37,836.26L962.75,841.50L969.22,841.50M977.81,830.50L973.20,830.50L972.73,835.21L973.20,834.69L974.58,834.16L975.97,834.16L977.35,834.69L978.27,835.74L978.74,837.31L978.74,838.36L978.27,839.93L977.35,840.98L975.97,841.50L974.58,841.50L973.20,840.98L972.73,840.45L972.27,839.40M982.27,830.50L982.27,841.50M982.27,830.50L988.73,841.50M988.73,830.50L988.73,841.50M995.05,830.50L994.13,831.02L993.20,832.07L992.74,833.12L992.28,834.69L992.28,837.31L992.74,838.88L993.20,839.93L994.13,840.98L995.05,841.50L996.90,841.50L997.82,840.98L998.74,839.93L999.20,838.88L999.67,837.31L999.67,834.69L999.20,833.12L998.74,832.07L997.82,831.02L996.90,830.50L995.05,830.50M1001.80,830.50L1005.49,841.50M1009.19,830.50L1005.49,841.50M1027.21,833.12L1027.21,832.59L1027.68,831.54L1028.14,831.02L1029.06,830.50L1030.91,830.50L1031.83,831.02L1032.29,831.54L1032.75,832.59L1032.75,833.64L1032.29,834.69L1031.37,836.26L1026.75,841.50L1033.22,841.50M1042.74,830.50L1038.12,841.50M1036.27,830.50L1042.74,830.50M1046.27,830.50L1046.27,841.50M1046.27,830.50L1052.73,841.50M1052.73,830.50L1052.73,841.50M1059.05,830.50L1058.13,831.02L1057.20,832.07L1056.74,833.12L1056.28,834.69L1056.28,837.31L1056.74,838.88L1057.20,839.93L1058.13,840.98L1059.05,841.50L1060.90,841.50L1061.82,840.98L1062.74,839.93L1063.20,838.88L1063.67,837.31L1063.67,834.69L1063.20,833.12L1062.74,832.07L1061.82,831.02L1060.90,830.50L1059.05,830.50M1065.80,830.50L1069.49,841.50M1073.19,830.50L1069.49,841.50M1091.21,833.12L1091.21,832.59L1091.68,831.54L1092.14,831.02L1093.06,830.50L1094.91,830.50L1095.83,831.02L1096.29,831.54L1096.75,832.59L1096.75,833.64L1096.29,834.69L1095.37,836.26L1090.75,841.50L1097.22,841.50M1106.27,834.16L1105.81,835.74L1104.89,836.78L1103.50,837.31L1103.04,837.31L1101.66,836.78L1100.73,835.74L1100.27,834.16L1100.27,833.64L1100.73,832.07L1101.66,831.02L1103.04,830.50L1103.50,830.50L1104.89,831.02L1105.81,832.07L1106.27,834.16L1106.27,836.78L1105.81,839.40L1104.89,840.98L1103.50,841.50L1102.58,841.50L1101.20,840.98L1100.73,839.93M1110.27,830.50L1110.27,841.50M1110.27,830.50L1116.73,841.50M1116.73,830.50L1116.73,841.50M1123.05,830.50L1122.13,831.02L1121.20,832.07L1120.74,833.12L1120.28,834.69L1120.28,837.31L1120.74,838.88L1121.20,839.93L1122.13,840.98L1123.05,841.50L1124.90,841.50L1125.82,840.98L1126.74,839.93L1127.20,838.88L1127.67,837.31L1127.67,834.69L1127.20,833.12L1126.74,832.07L1125.82,831.02L1124.90,830.50L1123.05,830.50M1129.80,830.50L1133.49,841.50M1137.19,830.50L1133.49,841.50M201.45,849.12L201.45,848.59L201.91,847.54L202.37,847.02L203.30,846.50L205.14,846.50L206.07,847.02L206.53,847.54L206.99,848.59L206.99,849.64L206.53,850.69L205.61,852.26L200.99,857.50L207.45,857.50M213.28,846.50L211.89,847.02L210.97,848.59L210.51,851.21L210.51,852.78L210.97,855.40L211.89,856.98L213.28,857.50L214.20,857.50L215.59,856.98L216.51,855.40L216.97,852.78L216.97,851.21L216.51,848.59L215.59,847.02L214.20,846.50L213.28,846.50M220.49,849.12L220.49,848.59L220.95,847.54L221.41,847.02L222.34,846.50L224.18,846.50L225.11,847.02L225.57,847.54L226.03,848.59L226.03,849.64L225.57,850.69L224.65,852.26L220.03,857.50L226.49,857.50M235.09,846.50L230.47,846.50L230.01,851.21L230.47,850.69L231.86,850.16L233.24,850.16L234.63,850.69L235.55,851.74L236.01,853.31L236.01,854.36L235.55,855.93L234.63,856.98L233.24,857.50L231.86,857.50L230.47,856.98L230.01,856.45L229.55,855.40M438.00,856.48L438.00,869.50M442.68,860.82L442.68,869.50M442.68,863.30L444.19,861.44L445.19,860.82L446.70,860.82L447.71,861.44L448.21,863.30L448.21,869.50M458.18,862.68L457.67,861.44L456.16,860.82L454.65,860.82L453.14,861.44L452.64,862.68L453.14,863.92L454.15,864.54L456.66,865.16L457.67,865.78L458.18,867.02L458.18,867.64L457.67,868.88L456.16,869.50L454.65,869.50L453.14,868.88L452.64,867.64M462.90,856.48L462.90,867.02L463.40,868.88L464.41,869.50L465.42,869.50M461.39,860.82L464.91,860.82M468.48,856.48L468.99,857.10L469.49,856.48L468.99,855.86L468.48,856.48M468.99,860.82L468.99,869.50M473.97,856.48L473.97,867.02L474.47,868.88L475.48,869.50L476.49,869.50M472.46,860.82L475.98,860.82M480.30,860.82L480.30,867.02L480.81,868.88L481.81,869.50L483.32,869.50L484.33,868.88L485.84,867.02M485.84,860.82L485.84,869.50M491.12,856.48L491.12,867.02L491.63,868.88L492.63,869.50L493.64,869.50M489.61,860.82L493.14,860.82M499.47,860.82L498.46,861.44L497.46,862.68L496.95,864.54L496.95,865.78L497.46,867.64L498.46,868.88L499.47,869.50L500.98,869.50L501.99,868.88L503.00,867.64L503.50,865.78L503.50,864.54L503.00,862.68L501.99,861.44L500.98,860.82L499.47,860.82M517.20,856.48L517.20,869.50M517.20,856.48L521.24,869.50M525.27,856.48L521.24,869.50M525.27,856.48L525.27,869.50M529.85,864.54L535.90,864.54L535.90,863.30L535.40,862.06L534.89,861.44L533.89,860.82L532.37,860.82L531.36,861.44L530.35,862.68L529.85,864.54L529.85,865.78L530.35,867.64L531.36,868.88L532.37,869.50L533.89,869.50L534.89,868.88L535.90,867.64M540.64,856.48L540.64,867.02L541.14,868.88L542.15,869.50L543.16,869.50M539.12,860.82L542.66,860.82M546.48,864.54L552.53,864.54L552.53,863.30L552.03,862.06L551.52,861.44L550.52,860.82L549.00,860.82L547.99,861.44L546.98,862.68L546.48,864.54L546.48,865.78L546.98,867.64L547.99,868.88L549.00,869.50L550.52,869.50L551.52,868.88L552.53,867.64M558.98,860.82L557.97,861.44L556.96,862.68L556.46,864.54L556.46,865.78L556.96,867.64L557.97,868.88L558.98,869.50L560.49,869.50L561.50,868.88L562.51,867.64L563.02,865.78L563.02,864.54L562.51,862.68L561.50,861.44L560.49,860.82L558.98,860.82M567.40,860.82L567.40,869.50M567.40,864.54L567.90,862.68L568.91,861.44L569.92,860.82L571.43,860.82M576.72,860.82L575.71,861.44L574.70,862.68L574.20,864.54L574.20,865.78L574.70,867.64L575.71,868.88L576.72,869.50L578.23,869.50L579.24,868.88L580.25,867.64L580.76,865.78L580.76,864.54L580.25,862.68L579.24,861.44L578.23,860.82L576.72,860.82M584.98,856.48L584.98,869.50M591.69,860.82L590.68,861.44L589.67,862.68L589.16,864.54L589.16,865.78L589.67,867.64L590.68,868.88L591.69,869.50L593.20,869.50L594.21,868.88L595.22,867.64L595.72,865.78L595.72,864.54L595.22,862.68L594.21,861.44L593.20,860.82L591.69,860.82M605.75,860.82L605.75,870.74L605.25,872.60L604.74,873.22L603.73,873.84L602.22,873.84L601.21,873.22M605.75,862.68L604.74,861.44L603.73,860.82L602.22,860.82L601.21,861.44L600.20,862.68L599.70,864.54L599.70,865.78L600.20,867.64L601.21,868.88L602.22,869.50L603.73,869.50L604.74,868.88L605.75,867.64M609.98,856.48L610.48,857.10L610.99,856.48L610.48,855.86L609.98,856.48M610.48,860.82L610.48,869.50M620.72,862.68L619.71,861.44L618.70,860.82L617.19,860.82L616.18,861.44L615.17,862.68L614.66,864.54L614.66,865.78L615.17,867.64L616.18,868.88L617.19,869.50L618.70,869.50L619.71,868.88L620.72,867.64M627.16,860.82L626.16,861.44L625.15,862.68L624.64,864.54L624.64,865.78L625.15,867.64L626.16,868.88L627.16,869.50L628.68,869.50L629.69,868.88L630.70,867.64L631.20,865.78L631.20,864.54L630.70,862.68L629.69,861.44L628.68,860.82L627.16,860.82M643.00,856.48L643.00,869.50M643.00,856.48L650.13,869.50M650.13,856.48L650.13,869.50M660.80,860.82L660.80,869.50M660.80,862.68L659.78,861.44L658.77,860.82L657.24,860.82L656.22,861.44L655.20,862.68L654.69,864.54L654.69,865.78L655.20,867.64L656.22,868.88L657.24,869.50L658.77,869.50L659.78,868.88L660.80,867.64M671.43,862.68L670.41,861.44L669.39,860.82L667.87,860.82L666.85,861.44L665.83,862.68L665.32,864.54L665.32,865.78L665.83,867.64L666.85,868.88L667.87,869.50L669.39,869.50L670.41,868.88L671.43,867.64M675.14,856.48L675.65,857.10L676.15,856.48L675.65,855.86L675.14,856.48M675.65,860.82L675.65,869.50M682.41,860.82L681.39,861.44L680.37,862.68L679.86,864.54L679.86,865.78L680.37,867.64L681.39,868.88L682.41,869.50L683.93,869.50L684.95,868.88L685.97,867.64L686.48,865.78L686.48,864.54L685.97,862.68L684.95,861.44L683.93,860.82L682.41,860.82M691.00,860.82L691.00,869.50M691.00,863.30L692.53,861.44L693.54,860.82L695.07,860.82L696.09,861.44L696.60,863.30L696.60,869.50M707.22,860.82L707.22,869.50M707.22,862.68L706.21,861.44L705.19,860.82L703.66,860.82L702.64,861.44L701.63,862.68L701.12,864.54L701.12,865.78L701.63,867.64L702.64,868.88L703.66,869.50L705.19,869.50L706.21,868.88L707.22,867.64M712.00,856.48L712.00,869.50M732.50,859.58L731.98,858.34L730.94,857.10L729.90,856.48L727.82,856.48L726.78,857.10L725.74,858.34L725.22,859.58L724.70,861.44L724.70,864.54L725.22,866.40L725.74,867.64L726.78,868.88L727.82,869.50L729.90,869.50L730.94,868.88L731.98,867.64L732.50,866.40M739.24,860.82L738.20,861.44L737.16,862.68L736.64,864.54L736.64,865.78L737.16,867.64L738.20,868.88L739.24,869.50L740.80,869.50L741.84,868.88L742.88,867.64L743.40,865.78L743.40,864.54L742.88,862.68L741.84,861.44L740.80,860.82L739.24,860.82M753.16,862.68L752.64,861.44L751.08,860.82L749.52,860.82L747.97,861.44L747.45,862.68L747.97,863.92L749.01,864.54L751.60,865.16L752.64,865.78L753.16,867.02L753.16,867.64L752.64,868.88L751.08,869.50L749.52,869.50L747.97,868.88L747.45,867.64M758.04,856.48L758.04,867.02L758.56,868.88L759.60,869.50L760.64,869.50M756.48,860.82L760.12,860.82M770.30,860.82L770.30,869.50M770.30,862.68L769.26,861.44L768.22,860.82L766.66,860.82L765.62,861.44L764.58,862.68L764.06,864.54L764.06,865.78L764.58,867.64L765.62,868.88L766.66,869.50L768.22,869.50L769.26,868.88L770.30,867.64M783.00,856.48L783.00,869.50M783.00,856.48L787.78,856.48L789.38,857.10L789.91,857.72L790.44,858.96L790.44,860.20L789.91,861.44L789.38,862.06L787.78,862.68L783.00,862.68M786.72,862.68L790.44,869.50M794.37,856.48L794.90,857.10L795.43,856.48L794.90,855.86L794.37,856.48M794.90,860.82L794.90,869.50M805.68,862.68L804.62,861.44L803.56,860.82L801.96,860.82L800.90,861.44L799.84,862.68L799.30,864.54L799.30,865.78L799.84,867.64L800.90,868.88L801.96,869.50L803.56,869.50L804.62,868.88L805.68,867.64M816.20,860.82L816.20,869.50M816.20,862.68L815.14,861.44L814.07,860.82L812.48,860.82L811.42,861.44L810.35,862.68L809.82,864.54L809.82,865.78L810.35,867.64L811.42,868.88L812.48,869.50L814.07,869.50L815.14,868.88L816.20,867.64M13.29,887.88L12.90,886.93L12.13,885.98L11.36,885.50L9.82,885.50L9.04,885.98L8.27,886.93L7.89,887.88L7.50,889.31L7.50,891.69L7.89,893.12L8.27,894.07L9.04,895.02L9.82,895.50L11.36,895.50L12.13,895.02L12.90,894.07L13.29,893.12L13.29,891.69M11.36,891.69L13.29,891.69M16.68,888.84L16.68,895.50M16.68,891.69L17.06,890.26L17.83,889.31L18.60,888.84L19.76,888.84M24.19,885.50L21.11,895.50M24.19,885.50L27.28,895.50M22.26,892.17L26.12,892.17M29.97,885.50L29.97,895.50M29.97,885.50L32.67,885.50L33.83,885.98L34.60,886.93L34.99,887.88L35.37,889.31L35.37,891.69L34.99,893.12L34.60,894.07L33.83,895.02L32.67,895.50L29.97,895.50M43.85,886.93L43.08,885.98L41.93,885.50L40.38,885.50L39.22,885.98L38.45,886.93L38.45,887.88L38.84,888.84L39.22,889.31L40.00,889.79L42.31,890.74L43.08,891.22L43.47,891.69L43.85,892.64L43.85,894.07L43.08,895.02L41.93,895.50L40.38,895.50L39.22,895.02L38.45,894.07M47.51,888.84L47.13,889.31L47.51,889.79L47.90,889.31L47.51,888.84M47.51,894.55L47.13,895.02L47.51,895.50L47.90,895.02L47.51,894.55M65.46,887.88L65.06,886.93L64.25,885.98L63.44,885.50L61.83,885.50L61.02,885.98L60.21,886.93L59.80,887.88L59.40,889.31L59.40,891.69L59.80,893.12L60.21,894.07L61.02,895.02L61.83,895.50L63.44,895.50L64.25,895.02L65.06,894.07L65.46,893.12M71.19,885.50L70.38,885.98L69.58,886.93L69.17,887.88L68.77,889.31L68.77,891.69L69.17,893.12L69.58,894.07L70.38,895.02L71.19,895.50L72.81,895.50L73.62,895.02L74.43,894.07L74.83,893.12L75.24,891.69L75.24,889.31L74.83,887.88L74.43,886.93L73.62,885.98L72.81,885.50L71.19,885.50M78.90,885.50L78.90,895.50M78.90,895.50L83.76,895.50M88.44,885.50L85.20,895.50M88.44,885.50L91.67,895.50M86.42,892.17L90.46,892.17M100.96,883.60L93.68,898.83M103.98,885.50L103.98,895.50M113.44,887.88L113.03,886.93L112.22,885.98L111.42,885.50L109.80,885.50L108.99,885.98L108.18,886.93L107.78,887.88L107.37,889.31L107.37,891.69L107.78,893.12L108.18,894.07L108.99,895.02L109.80,895.50L111.42,895.50L112.22,895.02L113.03,894.07L113.44,893.12L113.44,891.69M111.42,891.69L113.44,891.69M117.11,885.50L117.11,895.50M117.11,885.50L122.36,885.50M117.11,890.26L120.34,890.26M117.11,895.50L122.36,895.50M130.80,886.93L129.99,885.98L128.78,885.50L127.16,885.50L125.95,885.98L125.14,886.93L125.14,887.88L125.55,888.84L125.95,889.31L126.76,889.79L129.18,890.74L129.99,891.22L130.40,891.69L130.80,892.64L130.80,894.07L129.99,895.02L128.78,895.50L127.16,895.50L125.95,895.02L125.14,894.07M1026.90,887.88L1026.90,887.41L1027.30,886.46L1027.70,885.98L1028.50,885.50L1030.09,885.50L1030.89,885.98L1031.29,886.46L1031.69,887.41L1031.69,888.36L1031.29,889.31L1030.49,890.74L1026.50,895.50L1032.09,895.50M1037.67,885.50L1036.47,885.98L1035.67,887.41L1035.27,889.79L1035.27,891.22L1035.67,893.60L1036.47,895.02L1037.67,895.50L1038.47,895.50L1039.66,895.02L1040.46,893.60L1040.86,891.22L1040.86,889.79L1040.46,887.41L1039.66,885.98L1038.47,885.50L1037.67,885.50M1044.45,887.88L1044.45,887.41L1044.85,886.46L1045.24,885.98L1046.04,885.50L1047.64,885.50L1048.44,885.98L1048.84,886.46L1049.24,887.41L1049.24,888.36L1048.84,889.31L1048.04,890.74L1044.05,895.50L1049.64,895.50M1057.61,885.50L1053.62,885.50L1053.22,889.79L1053.62,889.31L1054.82,888.84L1056.01,888.84L1057.21,889.31L1058.01,890.26L1058.41,891.69L1058.41,892.64L1058.01,894.07L1057.21,895.02L1056.01,895.50L1054.82,895.50L1053.62,895.02L1053.22,894.55L1052.82,893.60M1062.11,891.22L1069.30,891.22M1074.20,887.41L1075.00,886.93L1076.19,885.50L1076.19,895.50M1084.17,885.50L1082.97,885.98L1082.17,887.41L1081.77,889.79L1081.77,891.22L1082.17,893.60L1082.97,895.02L1084.17,895.50L1084.97,895.50L1086.16,895.02L1086.96,893.60L1087.36,891.22L1087.36,889.79L1086.96,887.41L1086.16,885.98L1084.97,885.50L1084.17,885.50M1091.06,891.22L1098.25,891.22M1104.35,885.50L1103.15,885.98L1102.35,887.41L1101.95,889.79L1101.95,891.22L1102.35,893.60L1103.15,895.02L1104.35,895.50L1105.15,895.50L1106.34,895.02L1107.14,893.60L1107.54,891.22L1107.54,889.79L1107.14,887.41L1106.34,885.98L1105.15,885.50L1104.35,885.50M1111.12,887.88L1111.12,887.41L1111.52,886.46L1111.92,885.98L1112.72,885.50L1114.32,885.50L1115.12,885.98L1115.52,886.46L1115.91,887.41L1115.91,888.36L1115.52,889.31L1114.72,890.74L1110.73,895.50L1116.31,895.50M1120.02,891.22L1127.20,891.22M1132.10,887.41L1132.90,886.93L1134.10,885.50L1134.10,895.50M1141.67,885.50L1140.48,885.98L1140.08,886.93L1140.08,887.88L1140.48,888.84L1141.27,889.31L1142.87,889.79L1144.07,890.26L1144.87,891.22L1145.27,892.17L1145.27,893.60L1144.87,894.55L1144.47,895.02L1143.27,895.50L1141.67,895.50L1140.48,895.02L1139.68,894.07L1139.68,893.60L1139.68,892.17L1140.08,891.22L1140.88,890.26L1142.07,889.79L1143.67,889.31L1144.47,888.84L1144.87,887.88L1144.87,886.93L1144.47,885.98L1143.27,885.50L1141.67,885.50M1149.05,888.84L1148.65,889.31L1149.05,889.79L1149.45,889.31L1149.05,888.84M1149.05,894.55L1148.65,895.02L1149.05,895.50L1149.45,895.02L1149.05,894.55M1155.23,885.50L1154.04,885.98L1153.24,887.41L1152.84,889.79L1152.84,891.22L1153.24,893.60L1154.04,895.02L1155.23,895.50L1156.03,895.50L1157.23,895.02L1158.03,893.60L1158.43,891.22L1158.43,889.79L1158.03,887.41L1157.23,885.98L1156.03,885.50L1155.23,885.50M1164.01,885.50L1162.81,885.98L1162.01,887.41L1161.61,889.79L1161.61,891.22L1162.01,893.60L1162.81,895.02L1164.01,895.50L1164.80,895.50L1166.00,895.02L1166.80,893.60L1167.20,891.22L1167.20,889.79L1166.80,887.41L1166.00,885.98L1164.80,885.50L1164.01,885.50"/>
</svg></body></html>
